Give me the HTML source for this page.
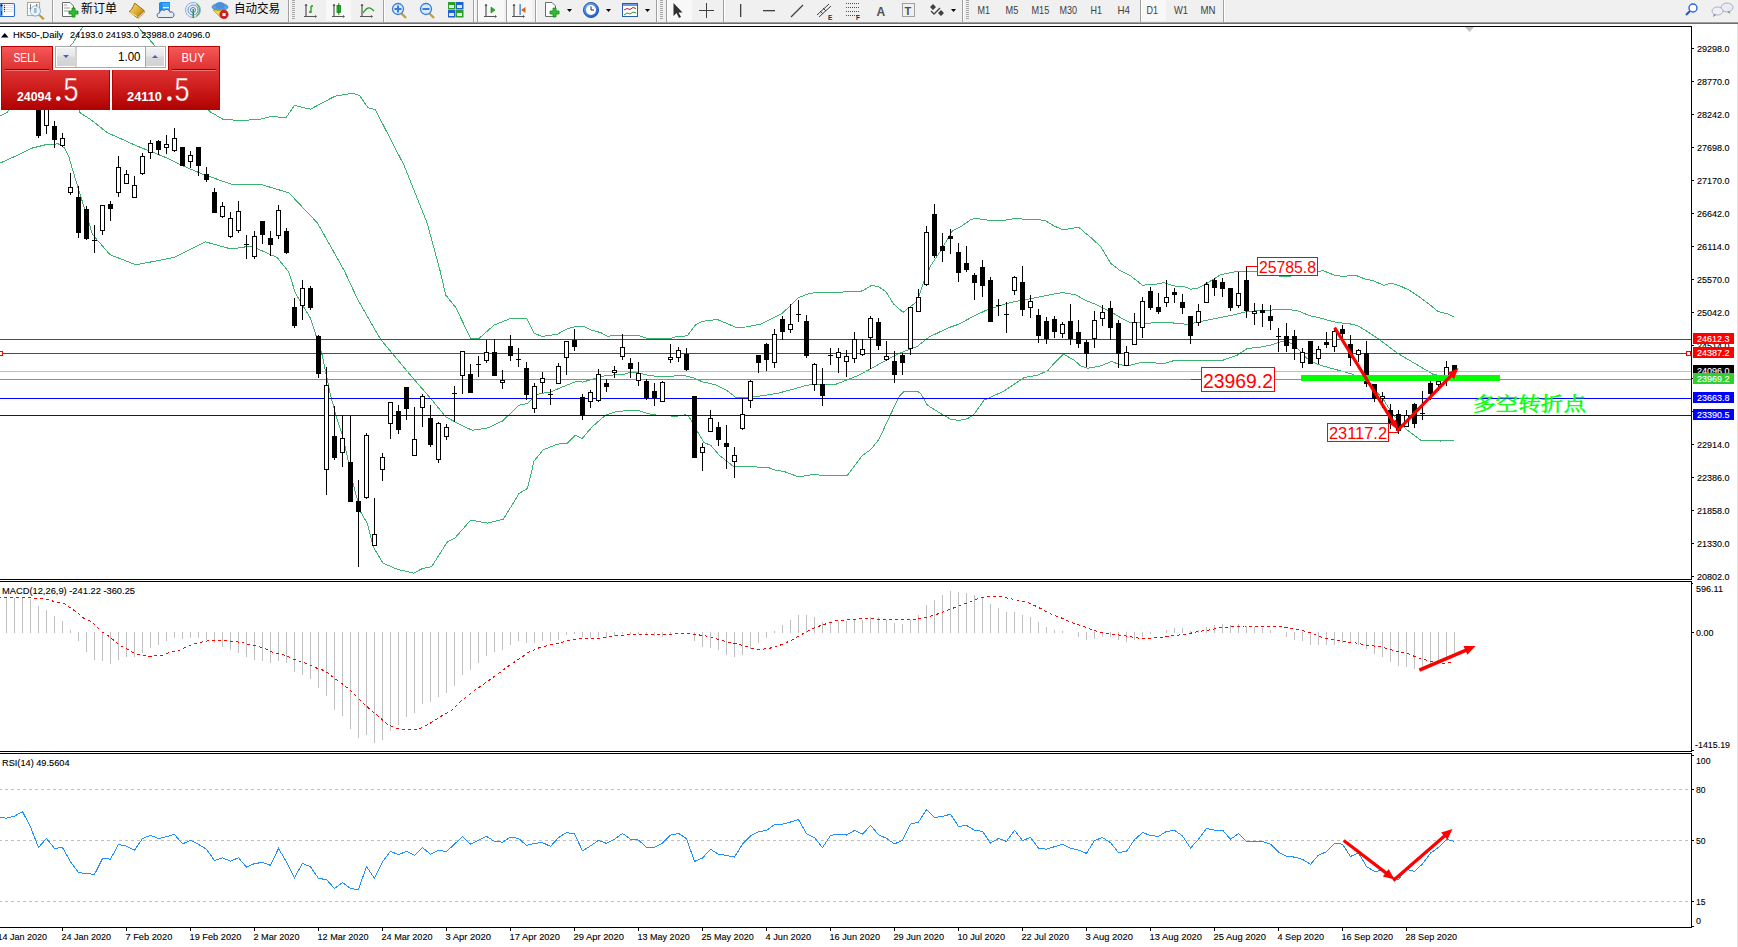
<!DOCTYPE html><html><head><meta charset="utf-8"><style>html,body{margin:0;padding:0;background:#fff;overflow:hidden}svg{display:block}</style></head><body>
<svg width="1738" height="947" viewBox="0 0 1738 947" font-family="'Liberation Sans', Arial, sans-serif">
<rect x="0" y="0" width="1738" height="947" fill="#fff"/>
<rect x="0" y="0" width="1738" height="22" fill="#f0f0f0"/>
<rect x="0" y="22" width="1738" height="1" fill="#a0a0a0"/>
<rect x="0" y="23" width="1738" height="1" fill="#6e6e6e"/>
<rect x="1737" y="24" width="1" height="923" fill="#e2e2e2"/>
<rect x="0" y="26" width="1692" height="1" fill="#000"/>
<rect x="0" y="579" width="1692" height="1" fill="#000"/>
<rect x="1691" y="26" width="1" height="554" fill="#000"/>
<rect x="0" y="581" width="1692" height="1" fill="#000"/>
<rect x="0" y="751" width="1692" height="1" fill="#000"/>
<rect x="1691" y="581" width="1" height="171" fill="#000"/>
<rect x="0" y="753" width="1692" height="1" fill="#000"/>
<rect x="0" y="927" width="1692" height="1" fill="#000"/>
<rect x="1691" y="753" width="1" height="175" fill="#000"/>
<clipPath id="cm"><rect x="0" y="27" width="1691" height="552"/></clipPath>
<g clip-path="url(#cm)">
<polyline points="40.5,70.0 60.5,55.0 72.7,43.5 82.6,26.8 86.5,14.0 133.5,14.0 138.1,27.2 153.4,44.0 180.5,80.0 210.4,111.9 222.6,119.1 240.5,120.6 259.9,119.2 271.5,116.4 285.9,117.8 294.5,105.4 310.4,109.2 334.9,96.2 352.2,93.3 359.4,95.3 368.0,107.7 375.3,109.7 404.1,165.4 427.1,223.0 439.9,270.0 445.7,295.0 455.7,307.5 470.7,338.4 479.1,338.4 494.1,325.1 510.8,318.4 526.6,318.4 534.1,333.4 542.5,336.4 557.5,334.2 567.2,328.7 573.8,327.0 583.0,326.2 592.2,330.4 600.5,332.5 607.2,336.2 618.9,335.4 638.9,335.5 647.3,338.4 670.6,338.4 677.3,336.4 687.3,335.9 695.7,324.7 702.3,321.4 717.3,319.5 735.7,327.2 745.7,327.0 760.7,324.2 782.4,313.3 795.8,300.0 798.8,297.5 807.2,294.2 817.2,292.0 835.6,293.0 845.6,291.7 860.5,291.4 863.9,290.1 871.4,285.4 878.9,286.8 885.6,291.4 893.9,304.3 903.1,312.3 908.9,307.6 917.3,301.5 923.9,280.9 930.6,265.9 940.6,250.9 952.3,230.9 960.7,226.7 970.7,219.7 975.7,218.4 987.4,220.0 1005.7,220.0 1014.0,218.7 1039.1,219.7 1045.8,220.9 1054.1,225.9 1063.3,230.0 1070.8,228.4 1079.1,227.5 1084.1,232.0 1090.8,237.5 1100.8,246.7 1110.8,263.4 1120.5,270.9 1130.6,275.9 1142.3,285.1 1153.9,284.7 1163.9,282.6 1174.0,285.9 1185.6,287.1 1190.6,289.2 1197.3,288.4 1207.3,283.1 1220.7,274.7 1237.4,271.4 1257.4,271.7 1270.5,274.0 1281.6,276.7 1287.4,277.0 1290.2,276.2 1323.3,270.7 1334.4,275.2 1344.1,276.6 1351.0,275.2 1356.5,275.6 1364.8,278.9 1373.1,280.7 1384.1,285.3 1391.0,283.1 1399.3,285.6 1409.0,290.0 1420.0,297.3 1428.3,303.5 1438.0,311.5 1447.6,313.9 1454.5,317.3" fill="none" stroke="#3cb371" stroke-width="1" shape-rendering="crispEdges"/>
<polyline points="0.5,115.7 7.3,112.4 20.5,90.0 60.5,60.0 76.5,100.0 79.6,112.4 91.8,120.3 107.0,132.5 122.2,139.3 137.4,146.2 152.6,152.2 167.8,158.3 183.0,165.9 202.3,174.0 231.1,184.1 259.9,184.1 288.8,192.8 317.5,223.0 343.9,270.0 358.0,300.0 380.5,339.2 414.0,379.3 430.7,398.5 445.7,416.8 460.7,425.0 472.5,430.3 487.5,428.0 502.5,421.0 519.1,405.2 527.5,403.5 537.5,394.3 550.8,391.8 568.8,384.3 577.2,381.3 583.0,382.1 590.5,379.8 598.9,377.1 607.2,375.4 615.5,374.8 623.9,374.3 631.4,372.1 638.9,373.1 650.6,375.9 667.3,376.4 684.0,375.4 694.0,378.1 702.3,381.8 715.7,384.8 727.4,390.9 735.7,397.3 744.0,397.3 757.4,396.4 777.4,393.4 794.1,388.9 807.5,385.1 820.8,384.3 835.8,384.3 857.2,375.9 868.9,369.8 883.9,361.4 899.0,353.4 917.3,346.4 929.0,337.1 949.0,327.5 959.0,324.2 974.0,315.9 987.4,309.7 1007.4,303.3 1020.8,300.3 1030.8,298.7 1049.1,295.0 1062.5,292.5 1075.8,294.8 1084.1,299.8 1097.5,305.1 1110.8,311.8 1120.5,317.6 1128.9,322.1 1145.6,323.4 1163.9,322.1 1187.3,324.3 1204.0,320.9 1229.0,315.9 1247.4,311.4 1270.7,310.1 1287.4,309.2 1298.5,311.1 1309.5,315.7 1317.8,317.3 1328.9,320.5 1337.2,322.6 1348.2,323.5 1356.5,325.3 1364.8,329.8 1378.6,339.1 1397.1,353.0 1419.5,366.2 1432.7,374.1 1444.0,376.4 1454.5,378.0" fill="none" stroke="#3cb371" stroke-width="1" shape-rendering="crispEdges"/>
<polyline points="0.5,162.9 15.7,156.0 30.9,148.4 46.1,144.6 58.3,143.9 64.4,147.7 68.9,156.8 72.7,170.0 78.3,188.4 92.5,234.5 110.0,254.7 136.0,264.8 173.5,257.6 205.2,241.8 231.1,249.0 251.3,246.0 277.2,257.6 288.8,272.0 295.5,293.4 310.5,318.4 316.4,336.7 322.2,355.1 330.5,395.1 337.2,420.0 342.2,434.2 348.9,463.4 353.9,486.7 360.6,511.8 367.3,523.5 373.1,546.8 383.1,563.2 397.3,569.3 414.0,573.2 422.3,568.5 431.5,566.8 447.4,541.8 454.9,538.1 470.7,520.1 487.4,523.1 503.3,519.3 519.1,493.4 527.5,488.4 534.1,460.9 543.3,449.7 557.5,444.2 567.2,443.2 575.5,435.2 582.2,438.5 592.2,426.8 605.5,415.1 615.6,411.8 630.6,410.1 638.9,410.5 647.3,413.5 653.1,414.8 675.6,416.3 685.6,414.8 689.0,416.8 695.7,428.5 704.0,442.7 710.7,445.2 719.0,455.0 733.9,466.8 767.3,467.1 775.6,470.4 784.0,471.4 799.0,477.1 805.7,475.6 815.7,474.3 820.7,475.4 847.4,475.4 862.4,455.4 870.7,449.7 879.1,439.2 889.1,417.5 899.1,396.7 904.0,391.3 917.3,391.0 920.7,393.5 927.3,405.1 940.7,413.5 950.7,419.3 959.0,420.5 967.4,418.8 974.0,414.3 984.1,400.1 1004.1,391.0 1024.1,377.6 1037.5,375.1 1047.5,370.9 1054.1,363.4 1063.3,354.2 1074.2,360.1 1080.5,365.9 1087.2,368.2 1098.9,366.5 1111.4,361.5 1118.9,364.3 1127.2,366.0 1142.3,362.1 1163.9,363.5 1175.6,360.1 1220.7,361.0 1237.4,355.1 1247.4,348.5 1262.4,346.8 1270.7,345.1 1280.7,341.8 1287.4,341.0 1295.8,346.8 1307.4,358.8 1317.5,364.3 1331.1,368.2 1352.2,374.1 1370.7,384.7 1383.9,400.5 1394.5,416.4 1405.0,428.3 1420.9,440.4 1440.5,441.0 1454.5,440.4" fill="none" stroke="#3cb371" stroke-width="1" shape-rendering="crispEdges"/>
<rect x="0" y="339" width="1691" height="1" fill="#ff0000"/>
<rect x="0" y="353" width="1691" height="1" fill="#ff0000"/>
<rect x="0" y="371" width="1691" height="1" fill="#c0c0c0"/>
<rect x="0" y="379" width="1691" height="1" fill="#32cd32"/>
<rect x="0" y="398" width="1691" height="1" fill="#0000ff"/>
<rect x="0" y="415" width="1691" height="1" fill="#0000ff"/>
<rect x="38" y="95" width="1" height="43"/>
<rect x="36" y="100" width="5" height="36"/>
<rect x="46" y="95" width="1" height="39"/>
<rect x="44" y="100" width="5" height="26"/>
<rect x="45" y="101" width="3" height="24" fill="#fff"/>
<rect x="54" y="121" width="1" height="27"/>
<rect x="52" y="126" width="5" height="14"/>
<rect x="62" y="133" width="1" height="14"/>
<rect x="60" y="138" width="5" height="8"/>
<rect x="61" y="139" width="3" height="6" fill="#fff"/>
<rect x="70" y="173" width="1" height="22"/>
<rect x="68" y="187" width="5" height="6"/>
<rect x="69" y="188" width="3" height="4" fill="#fff"/>
<rect x="78" y="186" width="1" height="52"/>
<rect x="76" y="197" width="5" height="36"/>
<rect x="86" y="206" width="1" height="34"/>
<rect x="84" y="209" width="5" height="30"/>
<rect x="94" y="225" width="1" height="28"/>
<rect x="92" y="240" width="5" height="1"/>
<rect x="102" y="205" width="1" height="30"/>
<rect x="100" y="205" width="5" height="26"/>
<rect x="101" y="206" width="3" height="24" fill="#fff"/>
<rect x="110" y="201" width="1" height="20"/>
<rect x="108" y="204" width="5" height="5"/>
<rect x="118" y="156" width="1" height="41"/>
<rect x="116" y="167" width="5" height="26"/>
<rect x="117" y="168" width="3" height="24" fill="#fff"/>
<rect x="126" y="170" width="1" height="14"/>
<rect x="124" y="174" width="5" height="10"/>
<rect x="125" y="175" width="3" height="8" fill="#fff"/>
<rect x="134" y="176" width="1" height="22"/>
<rect x="132" y="185" width="5" height="13"/>
<rect x="133" y="186" width="3" height="11" fill="#fff"/>
<rect x="142" y="153" width="1" height="22"/>
<rect x="140" y="156" width="5" height="18"/>
<rect x="141" y="157" width="3" height="16" fill="#fff"/>
<rect x="150" y="140" width="1" height="19"/>
<rect x="148" y="143" width="5" height="10"/>
<rect x="149" y="144" width="3" height="8" fill="#fff"/>
<rect x="158" y="140" width="1" height="15"/>
<rect x="156" y="141" width="5" height="9"/>
<rect x="166" y="135" width="1" height="19"/>
<rect x="164" y="144" width="5" height="4"/>
<rect x="165" y="145" width="3" height="2" fill="#fff"/>
<rect x="174" y="128" width="1" height="24"/>
<rect x="172" y="138" width="5" height="13"/>
<rect x="173" y="139" width="3" height="11" fill="#fff"/>
<rect x="182" y="147" width="1" height="19"/>
<rect x="180" y="147" width="5" height="19"/>
<rect x="190" y="151" width="1" height="17"/>
<rect x="188" y="155" width="5" height="7"/>
<rect x="189" y="156" width="3" height="5" fill="#fff"/>
<rect x="198" y="147" width="1" height="29"/>
<rect x="196" y="147" width="5" height="19"/>
<rect x="206" y="167" width="1" height="15"/>
<rect x="204" y="174" width="5" height="6"/>
<rect x="214" y="188" width="1" height="25"/>
<rect x="212" y="192" width="5" height="21"/>
<rect x="222" y="202" width="1" height="16"/>
<rect x="220" y="206" width="5" height="11"/>
<rect x="221" y="207" width="3" height="9" fill="#fff"/>
<rect x="230" y="212" width="1" height="26"/>
<rect x="228" y="218" width="5" height="19"/>
<rect x="229" y="219" width="3" height="17" fill="#fff"/>
<rect x="238" y="201" width="1" height="32"/>
<rect x="236" y="211" width="5" height="20"/>
<rect x="237" y="212" width="3" height="18" fill="#fff"/>
<rect x="246" y="235" width="1" height="24"/>
<rect x="244" y="244" width="5" height="1"/>
<rect x="254" y="231" width="1" height="28"/>
<rect x="252" y="236" width="5" height="21"/>
<rect x="253" y="237" width="3" height="19" fill="#fff"/>
<rect x="262" y="221" width="1" height="23"/>
<rect x="260" y="221" width="5" height="14"/>
<rect x="270" y="231" width="1" height="25"/>
<rect x="268" y="238" width="5" height="7"/>
<rect x="278" y="205" width="1" height="34"/>
<rect x="276" y="210" width="5" height="26"/>
<rect x="277" y="211" width="3" height="24" fill="#fff"/>
<rect x="286" y="228" width="1" height="26"/>
<rect x="284" y="231" width="5" height="22"/>
<rect x="294" y="298" width="1" height="30"/>
<rect x="292" y="307" width="5" height="19"/>
<rect x="302" y="280" width="1" height="40"/>
<rect x="300" y="288" width="5" height="18"/>
<rect x="301" y="289" width="3" height="16" fill="#fff"/>
<rect x="310" y="286" width="1" height="24"/>
<rect x="308" y="288" width="5" height="20"/>
<rect x="318" y="335" width="1" height="43"/>
<rect x="316" y="336" width="5" height="38"/>
<rect x="326" y="367" width="1" height="128"/>
<rect x="324" y="385" width="5" height="85"/>
<rect x="325" y="386" width="3" height="83" fill="#fff"/>
<rect x="334" y="406" width="1" height="54"/>
<rect x="332" y="436" width="5" height="22"/>
<rect x="342" y="415" width="1" height="52"/>
<rect x="340" y="438" width="5" height="15"/>
<rect x="341" y="439" width="3" height="13" fill="#fff"/>
<rect x="350" y="416" width="1" height="86"/>
<rect x="348" y="462" width="5" height="40"/>
<rect x="358" y="480" width="1" height="87"/>
<rect x="356" y="501" width="5" height="11"/>
<rect x="366" y="433" width="1" height="66"/>
<rect x="364" y="435" width="5" height="63"/>
<rect x="365" y="436" width="3" height="61" fill="#fff"/>
<rect x="374" y="498" width="1" height="48"/>
<rect x="372" y="534" width="5" height="12"/>
<rect x="373" y="535" width="3" height="10" fill="#fff"/>
<rect x="382" y="453" width="1" height="28"/>
<rect x="380" y="457" width="5" height="13"/>
<rect x="381" y="458" width="3" height="11" fill="#fff"/>
<rect x="390" y="402" width="1" height="37"/>
<rect x="388" y="402" width="5" height="22"/>
<rect x="389" y="403" width="3" height="20" fill="#fff"/>
<rect x="398" y="405" width="1" height="29"/>
<rect x="396" y="411" width="5" height="19"/>
<rect x="406" y="387" width="1" height="33"/>
<rect x="404" y="387" width="5" height="22"/>
<rect x="414" y="407" width="1" height="49"/>
<rect x="412" y="439" width="5" height="17"/>
<rect x="413" y="440" width="3" height="15" fill="#fff"/>
<rect x="422" y="394" width="1" height="33"/>
<rect x="420" y="396" width="5" height="12"/>
<rect x="421" y="397" width="3" height="10" fill="#fff"/>
<rect x="430" y="405" width="1" height="42"/>
<rect x="428" y="418" width="5" height="27"/>
<rect x="438" y="422" width="1" height="41"/>
<rect x="436" y="423" width="5" height="37"/>
<rect x="437" y="424" width="3" height="35" fill="#fff"/>
<rect x="446" y="424" width="1" height="16"/>
<rect x="444" y="427" width="5" height="10"/>
<rect x="445" y="428" width="3" height="8" fill="#fff"/>
<rect x="454" y="386" width="1" height="36"/>
<rect x="452" y="393" width="5" height="1"/>
<rect x="462" y="351" width="1" height="43"/>
<rect x="460" y="351" width="5" height="25"/>
<rect x="461" y="352" width="3" height="23" fill="#fff"/>
<rect x="470" y="364" width="1" height="29"/>
<rect x="468" y="374" width="5" height="19"/>
<rect x="478" y="356" width="1" height="21"/>
<rect x="476" y="364" width="5" height="1"/>
<rect x="486" y="340" width="1" height="23"/>
<rect x="484" y="352" width="5" height="9"/>
<rect x="485" y="353" width="3" height="7" fill="#fff"/>
<rect x="494" y="339" width="1" height="37"/>
<rect x="492" y="352" width="5" height="24"/>
<rect x="502" y="370" width="1" height="19"/>
<rect x="500" y="380" width="5" height="3"/>
<rect x="501" y="381" width="3" height="1" fill="#fff"/>
<rect x="510" y="335" width="1" height="26"/>
<rect x="508" y="346" width="5" height="10"/>
<rect x="518" y="348" width="1" height="19"/>
<rect x="516" y="359" width="5" height="1"/>
<rect x="526" y="362" width="1" height="38"/>
<rect x="524" y="368" width="5" height="27"/>
<rect x="534" y="383" width="1" height="30"/>
<rect x="532" y="386" width="5" height="23"/>
<rect x="533" y="387" width="3" height="21" fill="#fff"/>
<rect x="542" y="372" width="1" height="21"/>
<rect x="540" y="378" width="5" height="5"/>
<rect x="541" y="379" width="3" height="3" fill="#fff"/>
<rect x="550" y="389" width="1" height="16"/>
<rect x="548" y="394" width="5" height="1"/>
<rect x="558" y="363" width="1" height="21"/>
<rect x="556" y="366" width="5" height="18"/>
<rect x="557" y="367" width="3" height="16" fill="#fff"/>
<rect x="566" y="341" width="1" height="34"/>
<rect x="564" y="341" width="5" height="17"/>
<rect x="565" y="342" width="3" height="15" fill="#fff"/>
<rect x="574" y="329" width="1" height="22"/>
<rect x="572" y="340" width="5" height="7"/>
<rect x="582" y="394" width="1" height="26"/>
<rect x="580" y="397" width="5" height="19"/>
<rect x="590" y="390" width="1" height="18"/>
<rect x="588" y="392" width="5" height="10"/>
<rect x="589" y="393" width="3" height="8" fill="#fff"/>
<rect x="598" y="369" width="1" height="33"/>
<rect x="596" y="374" width="5" height="27"/>
<rect x="597" y="375" width="3" height="25" fill="#fff"/>
<rect x="606" y="379" width="1" height="13"/>
<rect x="604" y="383" width="5" height="4"/>
<rect x="614" y="366" width="1" height="12"/>
<rect x="612" y="370" width="5" height="3"/>
<rect x="613" y="371" width="3" height="1" fill="#fff"/>
<rect x="622" y="334" width="1" height="26"/>
<rect x="620" y="347" width="5" height="10"/>
<rect x="621" y="348" width="3" height="8" fill="#fff"/>
<rect x="630" y="358" width="1" height="20"/>
<rect x="628" y="363" width="5" height="6"/>
<rect x="638" y="362" width="1" height="24"/>
<rect x="636" y="373" width="5" height="8"/>
<rect x="637" y="374" width="3" height="6" fill="#fff"/>
<rect x="646" y="379" width="1" height="21"/>
<rect x="644" y="381" width="5" height="17"/>
<rect x="654" y="383" width="1" height="23"/>
<rect x="652" y="391" width="5" height="7"/>
<rect x="662" y="381" width="1" height="21"/>
<rect x="660" y="382" width="5" height="20"/>
<rect x="661" y="383" width="3" height="18" fill="#fff"/>
<rect x="670" y="344" width="1" height="19"/>
<rect x="668" y="357" width="5" height="3"/>
<rect x="669" y="358" width="3" height="1" fill="#fff"/>
<rect x="678" y="347" width="1" height="15"/>
<rect x="676" y="350" width="5" height="8"/>
<rect x="677" y="351" width="3" height="6" fill="#fff"/>
<rect x="686" y="348" width="1" height="23"/>
<rect x="684" y="354" width="5" height="16"/>
<rect x="694" y="396" width="1" height="62"/>
<rect x="692" y="396" width="5" height="62"/>
<rect x="702" y="443" width="1" height="28"/>
<rect x="700" y="447" width="5" height="6"/>
<rect x="701" y="448" width="3" height="4" fill="#fff"/>
<rect x="710" y="410" width="1" height="22"/>
<rect x="708" y="418" width="5" height="14"/>
<rect x="709" y="419" width="3" height="12" fill="#fff"/>
<rect x="718" y="422" width="1" height="24"/>
<rect x="716" y="427" width="5" height="13"/>
<rect x="726" y="425" width="1" height="44"/>
<rect x="724" y="443" width="5" height="4"/>
<rect x="734" y="447" width="1" height="31"/>
<rect x="732" y="455" width="5" height="7"/>
<rect x="733" y="456" width="3" height="5" fill="#fff"/>
<rect x="742" y="398" width="1" height="32"/>
<rect x="740" y="414" width="5" height="15"/>
<rect x="741" y="415" width="3" height="13" fill="#fff"/>
<rect x="750" y="380" width="1" height="28"/>
<rect x="748" y="381" width="5" height="20"/>
<rect x="749" y="382" width="3" height="18" fill="#fff"/>
<rect x="758" y="355" width="1" height="18"/>
<rect x="756" y="355" width="5" height="8"/>
<rect x="766" y="343" width="1" height="28"/>
<rect x="764" y="344" width="5" height="16"/>
<rect x="774" y="329" width="1" height="39"/>
<rect x="772" y="334" width="5" height="29"/>
<rect x="773" y="335" width="3" height="27" fill="#fff"/>
<rect x="782" y="316" width="1" height="24"/>
<rect x="780" y="319" width="5" height="13"/>
<rect x="790" y="304" width="1" height="29"/>
<rect x="788" y="324" width="5" height="6"/>
<rect x="789" y="325" width="3" height="4" fill="#fff"/>
<rect x="798" y="300" width="1" height="22"/>
<rect x="796" y="314" width="5" height="1"/>
<rect x="806" y="315" width="1" height="43"/>
<rect x="804" y="321" width="5" height="35"/>
<rect x="814" y="363" width="1" height="28"/>
<rect x="812" y="364" width="5" height="21"/>
<rect x="813" y="365" width="3" height="19" fill="#fff"/>
<rect x="822" y="368" width="1" height="38"/>
<rect x="820" y="384" width="5" height="12"/>
<rect x="830" y="348" width="1" height="17"/>
<rect x="828" y="355" width="5" height="1"/>
<rect x="838" y="348" width="1" height="25"/>
<rect x="836" y="352" width="5" height="6"/>
<rect x="837" y="353" width="3" height="4" fill="#fff"/>
<rect x="846" y="350" width="1" height="27"/>
<rect x="844" y="356" width="5" height="6"/>
<rect x="845" y="357" width="3" height="4" fill="#fff"/>
<rect x="854" y="332" width="1" height="31"/>
<rect x="852" y="339" width="5" height="20"/>
<rect x="853" y="340" width="3" height="18" fill="#fff"/>
<rect x="862" y="339" width="1" height="17"/>
<rect x="860" y="349" width="5" height="6"/>
<rect x="861" y="350" width="3" height="4" fill="#fff"/>
<rect x="870" y="316" width="1" height="53"/>
<rect x="868" y="318" width="5" height="20"/>
<rect x="869" y="319" width="3" height="18" fill="#fff"/>
<rect x="878" y="318" width="1" height="32"/>
<rect x="876" y="322" width="5" height="24"/>
<rect x="886" y="341" width="1" height="20"/>
<rect x="884" y="356" width="5" height="4"/>
<rect x="885" y="357" width="3" height="2" fill="#fff"/>
<rect x="894" y="351" width="1" height="32"/>
<rect x="892" y="361" width="5" height="14"/>
<rect x="902" y="353" width="1" height="22"/>
<rect x="900" y="355" width="5" height="8"/>
<rect x="910" y="307" width="1" height="48"/>
<rect x="908" y="307" width="5" height="42"/>
<rect x="909" y="308" width="3" height="40" fill="#fff"/>
<rect x="918" y="289" width="1" height="23"/>
<rect x="916" y="297" width="5" height="15"/>
<rect x="917" y="298" width="3" height="13" fill="#fff"/>
<rect x="926" y="226" width="1" height="60"/>
<rect x="924" y="232" width="5" height="53"/>
<rect x="925" y="233" width="3" height="51" fill="#fff"/>
<rect x="934" y="204" width="1" height="54"/>
<rect x="932" y="214" width="5" height="42"/>
<rect x="942" y="233" width="1" height="29"/>
<rect x="940" y="246" width="5" height="5"/>
<rect x="950" y="229" width="1" height="25"/>
<rect x="948" y="236" width="5" height="3"/>
<rect x="958" y="243" width="1" height="39"/>
<rect x="956" y="252" width="5" height="21"/>
<rect x="966" y="246" width="1" height="26"/>
<rect x="964" y="263" width="5" height="7"/>
<rect x="974" y="273" width="1" height="27"/>
<rect x="972" y="275" width="5" height="8"/>
<rect x="982" y="260" width="1" height="37"/>
<rect x="980" y="267" width="5" height="19"/>
<rect x="990" y="277" width="1" height="45"/>
<rect x="988" y="280" width="5" height="42"/>
<rect x="998" y="299" width="1" height="17"/>
<rect x="996" y="305" width="5" height="1"/>
<rect x="1006" y="302" width="1" height="31"/>
<rect x="1004" y="314" width="5" height="1"/>
<rect x="1014" y="276" width="1" height="19"/>
<rect x="1012" y="277" width="5" height="14"/>
<rect x="1013" y="278" width="3" height="12" fill="#fff"/>
<rect x="1022" y="266" width="1" height="50"/>
<rect x="1020" y="282" width="5" height="28"/>
<rect x="1030" y="295" width="1" height="23"/>
<rect x="1028" y="301" width="5" height="7"/>
<rect x="1029" y="302" width="3" height="5" fill="#fff"/>
<rect x="1038" y="309" width="1" height="34"/>
<rect x="1036" y="315" width="5" height="21"/>
<rect x="1046" y="317" width="1" height="27"/>
<rect x="1044" y="321" width="5" height="18"/>
<rect x="1054" y="316" width="1" height="22"/>
<rect x="1052" y="319" width="5" height="13"/>
<rect x="1062" y="322" width="1" height="16"/>
<rect x="1060" y="324" width="5" height="10"/>
<rect x="1061" y="325" width="3" height="8" fill="#fff"/>
<rect x="1070" y="304" width="1" height="41"/>
<rect x="1068" y="321" width="5" height="18"/>
<rect x="1078" y="320" width="1" height="28"/>
<rect x="1076" y="332" width="5" height="12"/>
<rect x="1086" y="340" width="1" height="27"/>
<rect x="1084" y="342" width="5" height="12"/>
<rect x="1094" y="311" width="1" height="37"/>
<rect x="1092" y="320" width="5" height="19"/>
<rect x="1093" y="321" width="3" height="17" fill="#fff"/>
<rect x="1102" y="305" width="1" height="21"/>
<rect x="1100" y="312" width="5" height="7"/>
<rect x="1101" y="313" width="3" height="5" fill="#fff"/>
<rect x="1110" y="301" width="1" height="39"/>
<rect x="1108" y="308" width="5" height="20"/>
<rect x="1118" y="320" width="1" height="48"/>
<rect x="1116" y="323" width="5" height="31"/>
<rect x="1126" y="346" width="1" height="20"/>
<rect x="1124" y="352" width="5" height="14"/>
<rect x="1125" y="353" width="3" height="12" fill="#fff"/>
<rect x="1134" y="313" width="1" height="32"/>
<rect x="1132" y="322" width="5" height="23"/>
<rect x="1133" y="323" width="3" height="21" fill="#fff"/>
<rect x="1142" y="297" width="1" height="41"/>
<rect x="1140" y="301" width="5" height="27"/>
<rect x="1141" y="302" width="3" height="25" fill="#fff"/>
<rect x="1150" y="287" width="1" height="23"/>
<rect x="1148" y="291" width="5" height="17"/>
<rect x="1158" y="293" width="1" height="21"/>
<rect x="1156" y="307" width="5" height="5"/>
<rect x="1166" y="280" width="1" height="27"/>
<rect x="1164" y="297" width="5" height="6"/>
<rect x="1165" y="298" width="3" height="4" fill="#fff"/>
<rect x="1174" y="288" width="1" height="15"/>
<rect x="1172" y="292" width="5" height="3"/>
<rect x="1182" y="294" width="1" height="20"/>
<rect x="1180" y="302" width="5" height="6"/>
<rect x="1190" y="316" width="1" height="28"/>
<rect x="1188" y="316" width="5" height="20"/>
<rect x="1198" y="304" width="1" height="22"/>
<rect x="1196" y="311" width="5" height="12"/>
<rect x="1197" y="312" width="3" height="10" fill="#fff"/>
<rect x="1206" y="282" width="1" height="21"/>
<rect x="1204" y="284" width="5" height="19"/>
<rect x="1205" y="285" width="3" height="17" fill="#fff"/>
<rect x="1214" y="278" width="1" height="18"/>
<rect x="1212" y="280" width="5" height="8"/>
<rect x="1222" y="278" width="1" height="19"/>
<rect x="1220" y="282" width="5" height="7"/>
<rect x="1230" y="288" width="1" height="23"/>
<rect x="1228" y="288" width="5" height="20"/>
<rect x="1238" y="272" width="1" height="36"/>
<rect x="1236" y="293" width="5" height="13"/>
<rect x="1237" y="294" width="3" height="11" fill="#fff"/>
<rect x="1246" y="266" width="1" height="52"/>
<rect x="1244" y="280" width="5" height="31"/>
<rect x="1254" y="303" width="1" height="22"/>
<rect x="1252" y="311" width="5" height="3"/>
<rect x="1253" y="312" width="3" height="1" fill="#fff"/>
<rect x="1262" y="304" width="1" height="23"/>
<rect x="1260" y="310" width="5" height="3"/>
<rect x="1270" y="305" width="1" height="25"/>
<rect x="1268" y="316" width="5" height="5"/>
<rect x="1278" y="328" width="1" height="24"/>
<rect x="1276" y="336" width="5" height="1"/>
<rect x="1286" y="323" width="1" height="29"/>
<rect x="1284" y="336" width="5" height="10"/>
<rect x="1294" y="330" width="1" height="30"/>
<rect x="1292" y="336" width="5" height="13"/>
<rect x="1302" y="348" width="1" height="20"/>
<rect x="1300" y="352" width="5" height="11"/>
<rect x="1301" y="353" width="3" height="9" fill="#fff"/>
<rect x="1310" y="341" width="1" height="23"/>
<rect x="1308" y="341" width="5" height="23"/>
<rect x="1318" y="346" width="1" height="18"/>
<rect x="1316" y="349" width="5" height="10"/>
<rect x="1317" y="350" width="3" height="8" fill="#fff"/>
<rect x="1326" y="332" width="1" height="16"/>
<rect x="1324" y="342" width="5" height="3"/>
<rect x="1334" y="329" width="1" height="23"/>
<rect x="1332" y="331" width="5" height="16"/>
<rect x="1333" y="332" width="3" height="14" fill="#fff"/>
<rect x="1342" y="325" width="1" height="13"/>
<rect x="1340" y="329" width="5" height="5"/>
<rect x="1350" y="335" width="1" height="31"/>
<rect x="1348" y="344" width="5" height="14"/>
<rect x="1358" y="349" width="1" height="13"/>
<rect x="1356" y="350" width="5" height="5"/>
<rect x="1357" y="351" width="3" height="3" fill="#fff"/>
<rect x="1366" y="341" width="1" height="46"/>
<rect x="1364" y="353" width="5" height="31"/>
<rect x="1374" y="384" width="1" height="18"/>
<rect x="1372" y="384" width="5" height="15"/>
<rect x="1382" y="392" width="1" height="16"/>
<rect x="1380" y="396" width="5" height="3"/>
<rect x="1381" y="397" width="3" height="1" fill="#fff"/>
<rect x="1390" y="404" width="1" height="25"/>
<rect x="1388" y="410" width="5" height="14"/>
<rect x="1398" y="410" width="1" height="24"/>
<rect x="1396" y="414" width="5" height="17"/>
<rect x="1406" y="410" width="1" height="17"/>
<rect x="1404" y="415" width="5" height="12"/>
<rect x="1405" y="416" width="3" height="10" fill="#fff"/>
<rect x="1414" y="403" width="1" height="25"/>
<rect x="1412" y="404" width="5" height="20"/>
<rect x="1422" y="391" width="1" height="29"/>
<rect x="1420" y="413" width="5" height="1"/>
<rect x="1430" y="381" width="1" height="19"/>
<rect x="1428" y="383" width="5" height="11"/>
<rect x="1438" y="381" width="1" height="10"/>
<rect x="1436" y="381" width="5" height="4"/>
<rect x="1437" y="382" width="3" height="2" fill="#fff"/>
<rect x="1446" y="361" width="1" height="25"/>
<rect x="1444" y="367" width="5" height="13"/>
<rect x="1445" y="368" width="3" height="11" fill="#fff"/>
<rect x="1454" y="365" width="1" height="13"/>
<rect x="1452" y="365" width="5" height="6"/>
</g>
<clipPath id="cmacd"><rect x="0" y="582" width="1691" height="169"/></clipPath>
<g clip-path="url(#cmacd)">
<rect x="6" y="598" width="1" height="35" fill="#c0c0c0"/>
<rect x="14" y="598" width="1" height="35" fill="#c0c0c0"/>
<rect x="22" y="598" width="1" height="35" fill="#c0c0c0"/>
<rect x="30" y="599" width="1" height="34" fill="#c0c0c0"/>
<rect x="38" y="606" width="1" height="27" fill="#c0c0c0"/>
<rect x="46" y="610" width="1" height="23" fill="#c0c0c0"/>
<rect x="54" y="616" width="1" height="17" fill="#c0c0c0"/>
<rect x="62" y="621" width="1" height="12" fill="#c0c0c0"/>
<rect x="70" y="630" width="1" height="3" fill="#c0c0c0"/>
<rect x="78" y="632" width="1" height="9" fill="#c0c0c0"/>
<rect x="86" y="632" width="1" height="20" fill="#c0c0c0"/>
<rect x="94" y="632" width="1" height="28" fill="#c0c0c0"/>
<rect x="102" y="632" width="1" height="29" fill="#c0c0c0"/>
<rect x="110" y="632" width="1" height="32" fill="#c0c0c0"/>
<rect x="118" y="632" width="1" height="28" fill="#c0c0c0"/>
<rect x="126" y="632" width="1" height="25" fill="#c0c0c0"/>
<rect x="134" y="632" width="1" height="25" fill="#c0c0c0"/>
<rect x="142" y="632" width="1" height="21" fill="#c0c0c0"/>
<rect x="150" y="632" width="1" height="16" fill="#c0c0c0"/>
<rect x="158" y="632" width="1" height="13" fill="#c0c0c0"/>
<rect x="166" y="632" width="1" height="9" fill="#c0c0c0"/>
<rect x="174" y="632" width="1" height="6" fill="#c0c0c0"/>
<rect x="182" y="632" width="1" height="7" fill="#c0c0c0"/>
<rect x="190" y="632" width="1" height="6" fill="#c0c0c0"/>
<rect x="198" y="632" width="1" height="6" fill="#c0c0c0"/>
<rect x="206" y="632" width="1" height="8" fill="#c0c0c0"/>
<rect x="214" y="632" width="1" height="11" fill="#c0c0c0"/>
<rect x="222" y="632" width="1" height="15" fill="#c0c0c0"/>
<rect x="230" y="632" width="1" height="18" fill="#c0c0c0"/>
<rect x="238" y="632" width="1" height="21" fill="#c0c0c0"/>
<rect x="246" y="632" width="1" height="25" fill="#c0c0c0"/>
<rect x="254" y="632" width="1" height="28" fill="#c0c0c0"/>
<rect x="262" y="632" width="1" height="29" fill="#c0c0c0"/>
<rect x="270" y="632" width="1" height="31" fill="#c0c0c0"/>
<rect x="278" y="632" width="1" height="29" fill="#c0c0c0"/>
<rect x="286" y="632" width="1" height="31" fill="#c0c0c0"/>
<rect x="294" y="632" width="1" height="40" fill="#c0c0c0"/>
<rect x="302" y="632" width="1" height="43" fill="#c0c0c0"/>
<rect x="310" y="632" width="1" height="47" fill="#c0c0c0"/>
<rect x="318" y="632" width="1" height="56" fill="#c0c0c0"/>
<rect x="326" y="632" width="1" height="64" fill="#c0c0c0"/>
<rect x="334" y="632" width="1" height="78" fill="#c0c0c0"/>
<rect x="342" y="632" width="1" height="84" fill="#c0c0c0"/>
<rect x="350" y="632" width="1" height="97" fill="#c0c0c0"/>
<rect x="358" y="632" width="1" height="106" fill="#c0c0c0"/>
<rect x="366" y="632" width="1" height="103" fill="#c0c0c0"/>
<rect x="374" y="632" width="1" height="111" fill="#c0c0c0"/>
<rect x="382" y="632" width="1" height="108" fill="#c0c0c0"/>
<rect x="390" y="632" width="1" height="99" fill="#c0c0c0"/>
<rect x="398" y="632" width="1" height="93" fill="#c0c0c0"/>
<rect x="406" y="632" width="1" height="85" fill="#c0c0c0"/>
<rect x="414" y="632" width="1" height="81" fill="#c0c0c0"/>
<rect x="422" y="632" width="1" height="72" fill="#c0c0c0"/>
<rect x="430" y="632" width="1" height="70" fill="#c0c0c0"/>
<rect x="438" y="632" width="1" height="65" fill="#c0c0c0"/>
<rect x="446" y="632" width="1" height="61" fill="#c0c0c0"/>
<rect x="454" y="632" width="1" height="54" fill="#c0c0c0"/>
<rect x="462" y="632" width="1" height="43" fill="#c0c0c0"/>
<rect x="470" y="632" width="1" height="38" fill="#c0c0c0"/>
<rect x="478" y="632" width="1" height="31" fill="#c0c0c0"/>
<rect x="486" y="632" width="1" height="24" fill="#c0c0c0"/>
<rect x="494" y="632" width="1" height="20" fill="#c0c0c0"/>
<rect x="502" y="632" width="1" height="18" fill="#c0c0c0"/>
<rect x="510" y="632" width="1" height="13" fill="#c0c0c0"/>
<rect x="518" y="632" width="1" height="9" fill="#c0c0c0"/>
<rect x="526" y="632" width="1" height="11" fill="#c0c0c0"/>
<rect x="534" y="632" width="1" height="11" fill="#c0c0c0"/>
<rect x="542" y="632" width="1" height="9" fill="#c0c0c0"/>
<rect x="550" y="632" width="1" height="9" fill="#c0c0c0"/>
<rect x="558" y="632" width="1" height="8" fill="#c0c0c0"/>
<rect x="566" y="632" width="1" height="3" fill="#c0c0c0"/>
<rect x="574" y="632" width="1" height="2" fill="#c0c0c0"/>
<rect x="582" y="632" width="1" height="5" fill="#c0c0c0"/>
<rect x="590" y="632" width="1" height="6" fill="#c0c0c0"/>
<rect x="598" y="632" width="1" height="5" fill="#c0c0c0"/>
<rect x="606" y="632" width="1" height="6" fill="#c0c0c0"/>
<rect x="614" y="632" width="1" height="4" fill="#c0c0c0"/>
<rect x="622" y="632" width="1" height="2" fill="#c0c0c0"/>
<rect x="630" y="632" width="1" height="2" fill="#c0c0c0"/>
<rect x="638" y="632" width="1" height="2" fill="#c0c0c0"/>
<rect x="646" y="632" width="1" height="3" fill="#c0c0c0"/>
<rect x="654" y="632" width="1" height="4" fill="#c0c0c0"/>
<rect x="662" y="632" width="1" height="5" fill="#c0c0c0"/>
<rect x="670" y="632" width="1" height="2" fill="#c0c0c0"/>
<rect x="694" y="632" width="1" height="9" fill="#c0c0c0"/>
<rect x="702" y="632" width="1" height="15" fill="#c0c0c0"/>
<rect x="710" y="632" width="1" height="16" fill="#c0c0c0"/>
<rect x="718" y="632" width="1" height="18" fill="#c0c0c0"/>
<rect x="726" y="632" width="1" height="23" fill="#c0c0c0"/>
<rect x="734" y="632" width="1" height="25" fill="#c0c0c0"/>
<rect x="742" y="632" width="1" height="23" fill="#c0c0c0"/>
<rect x="750" y="632" width="1" height="17" fill="#c0c0c0"/>
<rect x="758" y="632" width="1" height="11" fill="#c0c0c0"/>
<rect x="766" y="632" width="1" height="6" fill="#c0c0c0"/>
<rect x="774" y="631" width="1" height="2" fill="#c0c0c0"/>
<rect x="782" y="625" width="1" height="8" fill="#c0c0c0"/>
<rect x="790" y="620" width="1" height="13" fill="#c0c0c0"/>
<rect x="798" y="615" width="1" height="18" fill="#c0c0c0"/>
<rect x="806" y="615" width="1" height="18" fill="#c0c0c0"/>
<rect x="814" y="617" width="1" height="16" fill="#c0c0c0"/>
<rect x="822" y="622" width="1" height="11" fill="#c0c0c0"/>
<rect x="830" y="622" width="1" height="11" fill="#c0c0c0"/>
<rect x="838" y="621" width="1" height="12" fill="#c0c0c0"/>
<rect x="846" y="621" width="1" height="12" fill="#c0c0c0"/>
<rect x="854" y="620" width="1" height="13" fill="#c0c0c0"/>
<rect x="862" y="620" width="1" height="13" fill="#c0c0c0"/>
<rect x="870" y="617" width="1" height="16" fill="#c0c0c0"/>
<rect x="878" y="617" width="1" height="16" fill="#c0c0c0"/>
<rect x="886" y="620" width="1" height="13" fill="#c0c0c0"/>
<rect x="894" y="623" width="1" height="10" fill="#c0c0c0"/>
<rect x="902" y="624" width="1" height="9" fill="#c0c0c0"/>
<rect x="910" y="620" width="1" height="13" fill="#c0c0c0"/>
<rect x="918" y="615" width="1" height="18" fill="#c0c0c0"/>
<rect x="926" y="605" width="1" height="28" fill="#c0c0c0"/>
<rect x="934" y="600" width="1" height="33" fill="#c0c0c0"/>
<rect x="942" y="595" width="1" height="38" fill="#c0c0c0"/>
<rect x="950" y="591" width="1" height="42" fill="#c0c0c0"/>
<rect x="958" y="592" width="1" height="41" fill="#c0c0c0"/>
<rect x="966" y="593" width="1" height="40" fill="#c0c0c0"/>
<rect x="974" y="595" width="1" height="38" fill="#c0c0c0"/>
<rect x="982" y="598" width="1" height="35" fill="#c0c0c0"/>
<rect x="990" y="604" width="1" height="29" fill="#c0c0c0"/>
<rect x="998" y="608" width="1" height="25" fill="#c0c0c0"/>
<rect x="1006" y="612" width="1" height="21" fill="#c0c0c0"/>
<rect x="1014" y="612" width="1" height="21" fill="#c0c0c0"/>
<rect x="1022" y="615" width="1" height="18" fill="#c0c0c0"/>
<rect x="1030" y="617" width="1" height="16" fill="#c0c0c0"/>
<rect x="1038" y="622" width="1" height="11" fill="#c0c0c0"/>
<rect x="1046" y="627" width="1" height="6" fill="#c0c0c0"/>
<rect x="1054" y="630" width="1" height="3" fill="#c0c0c0"/>
<rect x="1062" y="631" width="1" height="2" fill="#c0c0c0"/>
<rect x="1078" y="632" width="1" height="5" fill="#c0c0c0"/>
<rect x="1086" y="632" width="1" height="8" fill="#c0c0c0"/>
<rect x="1094" y="632" width="1" height="7" fill="#c0c0c0"/>
<rect x="1102" y="632" width="1" height="5" fill="#c0c0c0"/>
<rect x="1110" y="632" width="1" height="5" fill="#c0c0c0"/>
<rect x="1118" y="632" width="1" height="8" fill="#c0c0c0"/>
<rect x="1126" y="632" width="1" height="10" fill="#c0c0c0"/>
<rect x="1134" y="632" width="1" height="8" fill="#c0c0c0"/>
<rect x="1142" y="632" width="1" height="5" fill="#c0c0c0"/>
<rect x="1150" y="632" width="1" height="2" fill="#c0c0c0"/>
<rect x="1166" y="630" width="1" height="3" fill="#c0c0c0"/>
<rect x="1174" y="628" width="1" height="5" fill="#c0c0c0"/>
<rect x="1182" y="628" width="1" height="5" fill="#c0c0c0"/>
<rect x="1190" y="631" width="1" height="2" fill="#c0c0c0"/>
<rect x="1198" y="630" width="1" height="3" fill="#c0c0c0"/>
<rect x="1206" y="627" width="1" height="6" fill="#c0c0c0"/>
<rect x="1214" y="625" width="1" height="8" fill="#c0c0c0"/>
<rect x="1222" y="624" width="1" height="9" fill="#c0c0c0"/>
<rect x="1230" y="625" width="1" height="8" fill="#c0c0c0"/>
<rect x="1238" y="624" width="1" height="9" fill="#c0c0c0"/>
<rect x="1246" y="626" width="1" height="7" fill="#c0c0c0"/>
<rect x="1254" y="627" width="1" height="6" fill="#c0c0c0"/>
<rect x="1262" y="628" width="1" height="5" fill="#c0c0c0"/>
<rect x="1270" y="630" width="1" height="3" fill="#c0c0c0"/>
<rect x="1286" y="632" width="1" height="5" fill="#c0c0c0"/>
<rect x="1294" y="632" width="1" height="8" fill="#c0c0c0"/>
<rect x="1302" y="632" width="1" height="9" fill="#c0c0c0"/>
<rect x="1310" y="632" width="1" height="13" fill="#c0c0c0"/>
<rect x="1318" y="632" width="1" height="13" fill="#c0c0c0"/>
<rect x="1326" y="632" width="1" height="13" fill="#c0c0c0"/>
<rect x="1334" y="632" width="1" height="13" fill="#c0c0c0"/>
<rect x="1342" y="632" width="1" height="11" fill="#c0c0c0"/>
<rect x="1350" y="632" width="1" height="11" fill="#c0c0c0"/>
<rect x="1358" y="632" width="1" height="13" fill="#c0c0c0"/>
<rect x="1366" y="632" width="1" height="17" fill="#c0c0c0"/>
<rect x="1374" y="632" width="1" height="22" fill="#c0c0c0"/>
<rect x="1382" y="632" width="1" height="25" fill="#c0c0c0"/>
<rect x="1390" y="632" width="1" height="30" fill="#c0c0c0"/>
<rect x="1398" y="632" width="1" height="34" fill="#c0c0c0"/>
<rect x="1406" y="632" width="1" height="35" fill="#c0c0c0"/>
<rect x="1414" y="632" width="1" height="37" fill="#c0c0c0"/>
<rect x="1422" y="632" width="1" height="36" fill="#c0c0c0"/>
<rect x="1430" y="632" width="1" height="32" fill="#c0c0c0"/>
<rect x="1438" y="632" width="1" height="29" fill="#c0c0c0"/>
<rect x="1446" y="632" width="1" height="25" fill="#c0c0c0"/>
<rect x="1454" y="632" width="1" height="21" fill="#c0c0c0"/>
<polyline points="-7.5,597.6 0.5,597.6 32.4,597.6 36.0,598.5 48.4,599.4 53.7,601.5 64.4,603.5 71.4,608.6 78.5,613.6 83.9,618.3 91.0,621.6 96.3,626.3 101.6,631.7 108.7,636.2 114.0,640.5 119.3,645.0 126.4,648.6 135.3,653.7 142.4,655.6 151.3,656.3 163.7,654.9 170.8,652.0 179.6,650.3 186.7,646.9 195.6,643.2 204.5,641.5 213.3,640.0 224.0,640.0 231.1,641.5 241.7,642.3 248.8,644.6 257.7,646.2 264.8,648.6 271.9,652.0 280.7,654.0 287.6,656.3 294.7,659.7 307.1,663.6 317.7,668.6 324.8,670.7 335.5,679.2 342.6,684.0 351.4,691.1 360.3,700.5 371.0,710.1 378.1,715.9 386.9,723.9 395.8,728.3 406.4,730.1 418.8,728.9 427.7,724.8 440.1,716.8 450.8,711.1 461.4,700.8 472.1,692.3 484.5,683.5 496.9,674.6 509.3,665.4 521.7,657.4 528.8,652.1 539.5,647.6 550.1,645.0 560.7,642.7 570.5,640.2 581.8,638.4 596.0,638.4 606.6,637.5 611.9,636.1 627.9,634.7 649.2,634.3 674.0,634.0 688.2,633.4 698.8,634.9 709.5,636.6 718.4,639.6 729.0,642.3 743.2,645.5 752.1,648.5 760.9,649.4 773.3,647.6 782.2,644.4 792.8,639.6 803.5,633.4 814.1,627.8 826.5,623.7 835.4,621.0 850.5,619.2 874.2,618.4 877.7,619.6 915.0,619.6 920.3,618.4 929.2,616.6 936.3,614.5 946.9,610.4 957.6,606.5 968.2,602.4 978.8,598.3 987.7,596.5 1000.1,596.5 1009.0,598.5 1017.9,600.1 1028.5,602.9 1037.4,606.8 1049.8,613.6 1060.4,617.5 1071.1,622.4 1085.3,627.2 1097.7,631.7 1110.1,633.8 1120.7,635.2 1129.6,636.6 1134.7,637.5 1143.6,638.8 1159.5,637.5 1173.7,635.6 1186.1,634.3 1195.0,632.2 1209.2,629.9 1219.8,627.8 1234.0,626.7 1244.7,626.0 1280.1,626.0 1290.8,628.5 1301.4,630.2 1312.1,633.4 1324.5,638.4 1342.2,641.4 1354.6,642.7 1365.3,645.0 1379.5,646.7 1390.1,649.4 1400.7,652.4 1410.5,654.4 1414.7,656.6 1421.4,658.9 1427.1,660.4 1432.8,661.6 1445.1,663.5 1451.8,662.5" fill="none" stroke="#ff0000" stroke-width="1" stroke-dasharray="3 3" stroke-dashoffset="0.5" shape-rendering="crispEdges"/>
</g>
<clipPath id="crsi"><rect x="0" y="754" width="1691" height="173"/></clipPath>
<g clip-path="url(#crsi)">
<line x1="-1" y1="789.5" x2="1691" y2="789.5" stroke="#c0c0c0" stroke-width="1" stroke-dasharray="3 3" shape-rendering="crispEdges"/>
<line x1="-1" y1="840.5" x2="1691" y2="840.5" stroke="#c0c0c0" stroke-width="1" stroke-dasharray="3 3" shape-rendering="crispEdges"/>
<line x1="-1" y1="901.5" x2="1691" y2="901.5" stroke="#c0c0c0" stroke-width="1" stroke-dasharray="3 3" shape-rendering="crispEdges"/>
<polyline points="-1.5,817.0 6.5,818.2 14.5,816.1 22.5,811.6 30.5,827.0 38.5,847.5 46.5,838.5 54.5,848.4 62.5,847.5 70.5,861.8 78.5,872.6 86.5,873.5 94.5,874.4 102.5,858.6 110.5,859.1 118.5,844.4 126.5,846.2 134.5,850.2 142.5,838.5 150.5,835.4 158.5,838.5 166.5,836.7 174.5,834.4 182.5,843.9 190.5,840.3 198.5,844.4 206.5,849.3 214.5,860.6 222.5,857.7 230.5,861.3 238.5,857.7 246.5,867.2 254.5,863.6 262.5,862.4 270.5,865.4 278.5,848.4 286.5,862.0 294.5,877.6 302.5,863.4 310.5,866.8 318.5,878.4 326.5,879.6 334.5,888.5 342.5,882.6 350.5,888.5 358.5,889.6 366.5,866.4 374.5,878.4 382.5,861.8 390.5,851.4 398.5,854.6 406.5,851.4 414.5,855.4 422.5,847.6 430.5,854.3 438.5,850.4 446.5,851.4 454.5,844.2 462.5,836.4 470.5,844.2 478.5,840.1 486.5,836.4 494.5,841.4 502.5,842.2 510.5,837.2 518.5,838.4 526.5,845.4 534.5,843.4 542.5,842.6 550.5,846.4 558.5,837.6 566.5,832.6 574.5,833.7 582.5,850.9 590.5,845.9 598.5,840.4 606.5,843.4 614.5,839.2 622.5,833.4 630.5,839.2 638.5,840.1 646.5,847.2 654.5,847.2 662.5,843.1 670.5,835.1 678.5,833.4 686.5,838.7 694.5,861.4 702.5,858.1 710.5,849.2 718.5,854.3 726.5,855.4 734.5,857.1 742.5,844.2 750.5,835.9 758.5,831.7 766.5,830.4 774.5,824.7 782.5,824.2 790.5,822.0 798.5,819.5 806.5,833.7 814.5,837.6 822.5,847.6 830.5,835.4 838.5,834.2 846.5,835.1 854.5,830.4 862.5,834.2 870.5,825.4 878.5,834.7 886.5,838.4 894.5,843.9 902.5,840.4 910.5,824.2 918.5,822.0 926.5,809.7 934.5,817.5 942.5,816.4 950.5,814.2 958.5,826.4 966.5,825.4 974.5,830.1 982.5,831.4 990.5,843.1 998.5,838.4 1006.5,841.4 1014.5,830.4 1022.5,840.4 1030.5,837.6 1038.5,848.1 1046.5,849.2 1054.5,846.7 1062.5,844.2 1070.5,848.1 1078.5,850.1 1086.5,853.4 1094.5,840.4 1102.5,837.6 1110.5,842.6 1118.5,852.6 1126.5,851.4 1134.5,839.7 1142.5,832.6 1150.5,835.4 1158.5,836.4 1166.5,831.4 1174.5,830.4 1182.5,835.9 1190.5,848.1 1198.5,839.2 1206.5,828.4 1214.5,830.1 1222.5,830.1 1230.5,839.2 1238.5,833.7 1246.5,841.4 1254.5,841.4 1262.5,841.4 1270.5,844.2 1278.5,852.1 1286.5,856.4 1294.5,857.1 1302.5,859.3 1310.5,864.3 1318.5,855.1 1326.5,851.8 1334.5,843.4 1342.5,844.2 1350.5,856.5 1358.5,852.9 1366.5,866.6 1374.5,871.5 1382.5,870.3 1390.5,876.0 1398.5,879.6 1406.5,869.2 1414.5,871.5 1422.5,863.9 1430.5,853.1 1438.5,847.3 1446.5,839.4 1454.5,841.4" fill="none" stroke="#1e90ff" stroke-width="1" shape-rendering="crispEdges"/>
</g>
<rect x="1301" y="375" width="199" height="6" fill="#00ff00"/>
<rect x="1246" y="266" width="11" height="1" fill="#ff0000"/>
<rect x="1257.5" y="257.5" width="60" height="18" fill="#fff" stroke="#ff0000" stroke-width="1"/>
<text x="1259" y="273" font-size="16" fill="#ff0000" text-anchor="start" textLength="57" lengthAdjust="spacingAndGlyphs">25785.8</text>
<rect x="1191" y="379" width="11" height="1" fill="#ff0000"/>
<rect x="1201.5" y="367.5" width="73" height="24" fill="#fff" stroke="#ff0000" stroke-width="1"/>
<text x="1203" y="388" font-size="21" fill="#ff0000" text-anchor="start" textLength="70" lengthAdjust="spacingAndGlyphs">23969.2</text>
<rect x="1389" y="432" width="9" height="1" fill="#ff0000"/>
<rect x="1327.5" y="423.5" width="61" height="18" fill="#fff" stroke="#ff0000" stroke-width="1"/>
<text x="1329" y="439" font-size="16" fill="#ff0000" text-anchor="start" textLength="58" lengthAdjust="spacingAndGlyphs">23117.2</text>
<line x1="1335.5" y1="329.0" x2="1393.3" y2="422.3" stroke="#ff0000" stroke-width="3.2" stroke-linecap="square"/><polygon points="1398.0,430.0 1389.3,423.6 1396.1,419.4" fill="#ff0000"/>
<line x1="1398.0" y1="430.0" x2="1451.5" y2="375.2" stroke="#ff0000" stroke-width="3.2" stroke-linecap="square"/><polygon points="1458.5,368.0 1454.0,379.0 1447.6,372.7" fill="#ff0000"/>
<text x="1473" y="411" font-size="19.5" fill="#00ff00" stroke="#00ff00" stroke-width="0.45" font-family="'Noto Serif CJK SC', 'Noto Sans CJK SC', serif" textLength="113" lengthAdjust="spacingAndGlyphs">多空转折点</text>
<line x1="1421.0" y1="669.5" x2="1466.3" y2="650.0" stroke="#ff0000" stroke-width="3.6" stroke-linecap="square"/><polygon points="1475.5,646.0 1467.3,654.8 1463.5,645.9" fill="#ff0000"/>
<line x1="1345.0" y1="841.5" x2="1386.6" y2="873.4" stroke="#ff0000" stroke-width="3.2" stroke-linecap="square"/><polygon points="1394.5,879.5 1382.9,876.6 1388.7,869.0" fill="#ff0000"/>
<line x1="1394.5" y1="879.5" x2="1445.0" y2="835.6" stroke="#ff0000" stroke-width="3.2" stroke-linecap="square"/><polygon points="1452.5,829.0 1447.4,839.8 1441.1,832.6" fill="#ff0000"/>
<rect x="1692" y="48" width="2" height="1" fill="#000"/>
<text x="1697" y="52" font-size="9.9" fill="#000" text-anchor="start" stroke="#000" stroke-width="0.12" textLength="32.5" lengthAdjust="spacingAndGlyphs">29298.0</text>
<rect x="1692" y="81" width="2" height="1" fill="#000"/>
<text x="1697" y="85" font-size="9.9" fill="#000" text-anchor="start" stroke="#000" stroke-width="0.12" textLength="32.5" lengthAdjust="spacingAndGlyphs">28770.0</text>
<rect x="1692" y="114" width="2" height="1" fill="#000"/>
<text x="1697" y="118" font-size="9.9" fill="#000" text-anchor="start" stroke="#000" stroke-width="0.12" textLength="32.5" lengthAdjust="spacingAndGlyphs">28242.0</text>
<rect x="1692" y="147" width="2" height="1" fill="#000"/>
<text x="1697" y="151" font-size="9.9" fill="#000" text-anchor="start" stroke="#000" stroke-width="0.12" textLength="32.5" lengthAdjust="spacingAndGlyphs">27698.0</text>
<rect x="1692" y="180" width="2" height="1" fill="#000"/>
<text x="1697" y="184" font-size="9.9" fill="#000" text-anchor="start" stroke="#000" stroke-width="0.12" textLength="32.5" lengthAdjust="spacingAndGlyphs">27170.0</text>
<rect x="1692" y="213" width="2" height="1" fill="#000"/>
<text x="1697" y="217" font-size="9.9" fill="#000" text-anchor="start" stroke="#000" stroke-width="0.12" textLength="32.5" lengthAdjust="spacingAndGlyphs">26642.0</text>
<rect x="1692" y="246" width="2" height="1" fill="#000"/>
<text x="1697" y="250" font-size="9.9" fill="#000" text-anchor="start" stroke="#000" stroke-width="0.12" textLength="32.5" lengthAdjust="spacingAndGlyphs">26114.0</text>
<rect x="1692" y="279" width="2" height="1" fill="#000"/>
<text x="1697" y="283" font-size="9.9" fill="#000" text-anchor="start" stroke="#000" stroke-width="0.12" textLength="32.5" lengthAdjust="spacingAndGlyphs">25570.0</text>
<rect x="1692" y="312" width="2" height="1" fill="#000"/>
<text x="1697" y="316" font-size="9.9" fill="#000" text-anchor="start" stroke="#000" stroke-width="0.12" textLength="32.5" lengthAdjust="spacingAndGlyphs">25042.0</text>
<rect x="1692" y="345" width="2" height="1" fill="#000"/>
<text x="1697" y="349" font-size="9.9" fill="#000" text-anchor="start" stroke="#000" stroke-width="0.12" textLength="32.5" lengthAdjust="spacingAndGlyphs">24514.0</text>
<rect x="1692" y="378" width="2" height="1" fill="#000"/>
<text x="1697" y="382" font-size="9.9" fill="#000" text-anchor="start" stroke="#000" stroke-width="0.12" textLength="32.5" lengthAdjust="spacingAndGlyphs">23986.0</text>
<rect x="1692" y="411" width="2" height="1" fill="#000"/>
<text x="1697" y="415" font-size="9.9" fill="#000" text-anchor="start" stroke="#000" stroke-width="0.12" textLength="32.5" lengthAdjust="spacingAndGlyphs">23458.0</text>
<rect x="1692" y="444" width="2" height="1" fill="#000"/>
<text x="1697" y="448" font-size="9.9" fill="#000" text-anchor="start" stroke="#000" stroke-width="0.12" textLength="32.5" lengthAdjust="spacingAndGlyphs">22914.0</text>
<rect x="1692" y="477" width="2" height="1" fill="#000"/>
<text x="1697" y="481" font-size="9.9" fill="#000" text-anchor="start" stroke="#000" stroke-width="0.12" textLength="32.5" lengthAdjust="spacingAndGlyphs">22386.0</text>
<rect x="1692" y="510" width="2" height="1" fill="#000"/>
<text x="1697" y="514" font-size="9.9" fill="#000" text-anchor="start" stroke="#000" stroke-width="0.12" textLength="32.5" lengthAdjust="spacingAndGlyphs">21858.0</text>
<rect x="1692" y="543" width="2" height="1" fill="#000"/>
<text x="1697" y="547" font-size="9.9" fill="#000" text-anchor="start" stroke="#000" stroke-width="0.12" textLength="32.5" lengthAdjust="spacingAndGlyphs">21330.0</text>
<rect x="1692" y="576" width="2" height="1" fill="#000"/>
<text x="1697" y="580" font-size="9.9" fill="#000" text-anchor="start" stroke="#000" stroke-width="0.12" textLength="32.5" lengthAdjust="spacingAndGlyphs">20802.0</text>
<rect x="1693" y="333" width="41" height="11" fill="#ff0000"/>
<text x="1697" y="342" font-size="9.9" fill="#fff" text-anchor="start" stroke="#fff" stroke-width="0.12" textLength="32.5" lengthAdjust="spacingAndGlyphs">24612.3</text>
<rect x="1693" y="347" width="41" height="11" fill="#ff0000"/>
<text x="1697" y="356" font-size="9.9" fill="#fff" text-anchor="start" stroke="#fff" stroke-width="0.12" textLength="32.5" lengthAdjust="spacingAndGlyphs">24387.2</text>
<rect x="1693" y="365" width="41" height="11" fill="#000000"/>
<text x="1697" y="374" font-size="9.9" fill="#fff" text-anchor="start" stroke="#fff" stroke-width="0.12" textLength="32.5" lengthAdjust="spacingAndGlyphs">24096.0</text>
<rect x="1693" y="373" width="41" height="11" fill="#32cd32"/>
<text x="1697" y="382" font-size="9.9" fill="#fff" text-anchor="start" stroke="#fff" stroke-width="0.12" textLength="32.5" lengthAdjust="spacingAndGlyphs">23969.2</text>
<rect x="1693" y="392" width="41" height="11" fill="#0000ff"/>
<text x="1697" y="401" font-size="9.9" fill="#fff" text-anchor="start" stroke="#fff" stroke-width="0.12" textLength="32.5" lengthAdjust="spacingAndGlyphs">23663.8</text>
<rect x="1693" y="409" width="41" height="11" fill="#0000ff"/>
<text x="1697" y="418" font-size="9.9" fill="#fff" text-anchor="start" stroke="#fff" stroke-width="0.12" textLength="32.5" lengthAdjust="spacingAndGlyphs">23390.5</text>
<rect x="1686.5" y="351.5" width="4" height="4" fill="#fff" stroke="#ff0000" stroke-width="1"/>
<rect x="-1.5" y="351.5" width="4" height="4" fill="#fff" stroke="#ff0000" stroke-width="1"/>
<rect x="1692" y="583" width="1" height="1" fill="#000"/>
<text x="1696" y="591.5" font-size="9.9" fill="#000" text-anchor="start" stroke="#000" stroke-width="0.12" textLength="27" lengthAdjust="spacingAndGlyphs">596.11</text>
<rect x="1692" y="632" width="2" height="1" fill="#000"/>
<text x="1696" y="635.5" font-size="9.9" fill="#000" text-anchor="start" stroke="#000" stroke-width="0.12" textLength="17.5" lengthAdjust="spacingAndGlyphs">0.00</text>
<rect x="1692" y="750" width="2" height="1" fill="#000"/>
<text x="1695" y="748" font-size="9.9" fill="#000" text-anchor="start" stroke="#000" stroke-width="0.12" textLength="35" lengthAdjust="spacingAndGlyphs">-1415.19</text>
<rect x="1692" y="755" width="2" height="1" fill="#000"/>
<text x="1696" y="764" font-size="9.9" fill="#000" text-anchor="start" stroke="#000" stroke-width="0.12" textLength="14.5" lengthAdjust="spacingAndGlyphs">100</text>
<rect x="1692" y="789" width="2" height="1" fill="#000"/>
<text x="1696" y="793" font-size="9.9" fill="#000" text-anchor="start" stroke="#000" stroke-width="0.12" textLength="9.5" lengthAdjust="spacingAndGlyphs">80</text>
<rect x="1692" y="840" width="2" height="1" fill="#000"/>
<text x="1696" y="844" font-size="9.9" fill="#000" text-anchor="start" stroke="#000" stroke-width="0.12" textLength="9.5" lengthAdjust="spacingAndGlyphs">50</text>
<rect x="1692" y="901" width="2" height="1" fill="#000"/>
<text x="1696" y="905" font-size="9.9" fill="#000" text-anchor="start" stroke="#000" stroke-width="0.12" textLength="9.5" lengthAdjust="spacingAndGlyphs">15</text>
<rect x="1692" y="926" width="2" height="1" fill="#000"/>
<text x="1696" y="924" font-size="9.9" fill="#000" text-anchor="start" stroke="#000" stroke-width="0.12" textLength="5" lengthAdjust="spacingAndGlyphs">0</text>
<rect x="-2" y="928" width="1" height="3" fill="#000"/>
<text x="-2.5" y="940" font-size="9.9" fill="#000" text-anchor="start" stroke="#000" stroke-width="0.12" textLength="49.6" lengthAdjust="spacingAndGlyphs">14 Jan 2020</text>
<rect x="62" y="928" width="1" height="3" fill="#000"/>
<text x="61.5" y="940" font-size="9.9" fill="#000" text-anchor="start" stroke="#000" stroke-width="0.12" textLength="49.6" lengthAdjust="spacingAndGlyphs">24 Jan 2020</text>
<rect x="126" y="928" width="1" height="3" fill="#000"/>
<text x="125.5" y="940" font-size="9.9" fill="#000" text-anchor="start" stroke="#000" stroke-width="0.12" textLength="46.8" lengthAdjust="spacingAndGlyphs">7 Feb 2020</text>
<rect x="190" y="928" width="1" height="3" fill="#000"/>
<text x="189.5" y="940" font-size="9.9" fill="#000" text-anchor="start" stroke="#000" stroke-width="0.12" textLength="51.8" lengthAdjust="spacingAndGlyphs">19 Feb 2020</text>
<rect x="254" y="928" width="1" height="3" fill="#000"/>
<text x="253.5" y="940" font-size="9.9" fill="#000" text-anchor="start" stroke="#000" stroke-width="0.12" textLength="46.0" lengthAdjust="spacingAndGlyphs">2 Mar 2020</text>
<rect x="318" y="928" width="1" height="3" fill="#000"/>
<text x="317.5" y="940" font-size="9.9" fill="#000" text-anchor="start" stroke="#000" stroke-width="0.12" textLength="51.0" lengthAdjust="spacingAndGlyphs">12 Mar 2020</text>
<rect x="382" y="928" width="1" height="3" fill="#000"/>
<text x="381.5" y="940" font-size="9.9" fill="#000" text-anchor="start" stroke="#000" stroke-width="0.12" textLength="51.0" lengthAdjust="spacingAndGlyphs">24 Mar 2020</text>
<rect x="446" y="928" width="1" height="3" fill="#000"/>
<text x="445.5" y="940" font-size="9.9" fill="#000" text-anchor="start" stroke="#000" stroke-width="0.12" textLength="45.5" lengthAdjust="spacingAndGlyphs">3 Apr 2020</text>
<rect x="510" y="928" width="1" height="3" fill="#000"/>
<text x="509.5" y="940" font-size="9.9" fill="#000" text-anchor="start" stroke="#000" stroke-width="0.12" textLength="50.5" lengthAdjust="spacingAndGlyphs">17 Apr 2020</text>
<rect x="574" y="928" width="1" height="3" fill="#000"/>
<text x="573.5" y="940" font-size="9.9" fill="#000" text-anchor="start" stroke="#000" stroke-width="0.12" textLength="50.5" lengthAdjust="spacingAndGlyphs">29 Apr 2020</text>
<rect x="638" y="928" width="1" height="3" fill="#000"/>
<text x="637.5" y="940" font-size="9.9" fill="#000" text-anchor="start" stroke="#000" stroke-width="0.12" textLength="52.2" lengthAdjust="spacingAndGlyphs">13 May 2020</text>
<rect x="702" y="928" width="1" height="3" fill="#000"/>
<text x="701.5" y="940" font-size="9.9" fill="#000" text-anchor="start" stroke="#000" stroke-width="0.12" textLength="52.2" lengthAdjust="spacingAndGlyphs">25 May 2020</text>
<rect x="766" y="928" width="1" height="3" fill="#000"/>
<text x="765.5" y="940" font-size="9.9" fill="#000" text-anchor="start" stroke="#000" stroke-width="0.12" textLength="45.5" lengthAdjust="spacingAndGlyphs">4 Jun 2020</text>
<rect x="830" y="928" width="1" height="3" fill="#000"/>
<text x="829.5" y="940" font-size="9.9" fill="#000" text-anchor="start" stroke="#000" stroke-width="0.12" textLength="50.5" lengthAdjust="spacingAndGlyphs">16 Jun 2020</text>
<rect x="894" y="928" width="1" height="3" fill="#000"/>
<text x="893.5" y="940" font-size="9.9" fill="#000" text-anchor="start" stroke="#000" stroke-width="0.12" textLength="50.5" lengthAdjust="spacingAndGlyphs">29 Jun 2020</text>
<rect x="958" y="928" width="1" height="3" fill="#000"/>
<text x="957.5" y="940" font-size="9.9" fill="#000" text-anchor="start" stroke="#000" stroke-width="0.12" textLength="47.5" lengthAdjust="spacingAndGlyphs">10 Jul 2020</text>
<rect x="1022" y="928" width="1" height="3" fill="#000"/>
<text x="1021.5" y="940" font-size="9.9" fill="#000" text-anchor="start" stroke="#000" stroke-width="0.12" textLength="47.5" lengthAdjust="spacingAndGlyphs">22 Jul 2020</text>
<rect x="1086" y="928" width="1" height="3" fill="#000"/>
<text x="1085.5" y="940" font-size="9.9" fill="#000" text-anchor="start" stroke="#000" stroke-width="0.12" textLength="47.5" lengthAdjust="spacingAndGlyphs">3 Aug 2020</text>
<rect x="1150" y="928" width="1" height="3" fill="#000"/>
<text x="1149.5" y="940" font-size="9.9" fill="#000" text-anchor="start" stroke="#000" stroke-width="0.12" textLength="52.5" lengthAdjust="spacingAndGlyphs">13 Aug 2020</text>
<rect x="1214" y="928" width="1" height="3" fill="#000"/>
<text x="1213.5" y="940" font-size="9.9" fill="#000" text-anchor="start" stroke="#000" stroke-width="0.12" textLength="52.5" lengthAdjust="spacingAndGlyphs">25 Aug 2020</text>
<rect x="1278" y="928" width="1" height="3" fill="#000"/>
<text x="1277.5" y="940" font-size="9.9" fill="#000" text-anchor="start" stroke="#000" stroke-width="0.12" textLength="46.5" lengthAdjust="spacingAndGlyphs">4 Sep 2020</text>
<rect x="1342" y="928" width="1" height="3" fill="#000"/>
<text x="1341.5" y="940" font-size="9.9" fill="#000" text-anchor="start" stroke="#000" stroke-width="0.12" textLength="51.5" lengthAdjust="spacingAndGlyphs">16 Sep 2020</text>
<rect x="1406" y="928" width="1" height="3" fill="#000"/>
<text x="1405.5" y="940" font-size="9.9" fill="#000" text-anchor="start" stroke="#000" stroke-width="0.12" textLength="51.5" lengthAdjust="spacingAndGlyphs">28 Sep 2020</text>
<path d="M1465,27 H1474 L1469.5,32 Z" fill="#c0c0c0"/>
<text x="2" y="594" font-size="9.9" fill="#000" text-anchor="start" stroke="#000" stroke-width="0.12" textLength="133" lengthAdjust="spacingAndGlyphs">MACD(12,26,9) -241.22 -360.25</text>
<text x="2" y="766" font-size="9.9" fill="#000" text-anchor="start" stroke="#000" stroke-width="0.12" textLength="67.5" lengthAdjust="spacingAndGlyphs">RSI(14) 49.5604</text>
<path d="M1,37.5 L8.5,37.5 L4.75,33 Z" fill="#000"/>
<text x="13" y="38" font-size="9.9" fill="#000" text-anchor="start" stroke="#000" stroke-width="0.12" textLength="50.3" lengthAdjust="spacingAndGlyphs">HK50-,Daily</text>
<text x="70" y="38" font-size="9.9" fill="#000" text-anchor="start" stroke="#000" stroke-width="0.12" textLength="140" lengthAdjust="spacingAndGlyphs">24193.0 24193.0 23988.0 24096.0</text>
<defs>
<linearGradient id="gTop" x1="0" y1="0" x2="0" y2="1"><stop offset="0" stop-color="#f65858"/><stop offset="1" stop-color="#dd3030"/></linearGradient>
<linearGradient id="gBot" x1="0" y1="0" x2="0" y2="1"><stop offset="0" stop-color="#de3333"/><stop offset="0.5" stop-color="#cc1a1a"/><stop offset="1" stop-color="#b00202"/></linearGradient>
<linearGradient id="gBtn" x1="0" y1="0" x2="0" y2="1"><stop offset="0" stop-color="#f2f2f2"/><stop offset="0.45" stop-color="#e6e6e6"/><stop offset="0.5" stop-color="#d9d9d9"/><stop offset="1" stop-color="#d2d2d2"/></linearGradient>
</defs>
<rect x="1" y="46" width="220" height="64" fill="#fff"/>
<path d="M1,46 H53 V70 H110 V110 H1 Z" fill="#b40000"/>
<rect x="2" y="47" width="50" height="23" fill="url(#gTop)"/>
<rect x="2" y="70" width="107" height="39" fill="url(#gBot)"/>
<rect x="5" y="69" width="44" height="1" fill="#7a0000"/>
<rect x="5" y="70" width="44" height="1" fill="#f07070"/>
<path d="M168,46 H220 V110 H112 V70 H168 Z" fill="#b40000"/>
<rect x="169" y="47" width="50" height="23" fill="url(#gTop)"/>
<rect x="113" y="70" width="106" height="39" fill="url(#gBot)"/>
<rect x="172" y="69" width="44" height="1" fill="#7a0000"/>
<rect x="172" y="70" width="44" height="1" fill="#f07070"/>
<rect x="55.5" y="46.5" width="110" height="21" fill="#fff" stroke="#a8a8a8"/>
<rect x="57" y="48" width="18" height="18" fill="url(#gBtn)"/>
<rect x="75.5" y="47" width="1" height="20" fill="#a8a8a8"/>
<rect x="145" y="47" width="1" height="20" fill="#a8a8a8"/>
<rect x="146" y="48" width="18" height="18" fill="url(#gBtn)"/>
<path d="M63,55 H69 L66,58 Z" fill="#4a5ec8"/>
<path d="M152,58 H158 L155,55 Z" fill="#4a5ec8"/>
<text x="140.5" y="61" font-size="12.5" fill="#000" text-anchor="end" textLength="22.5" lengthAdjust="spacingAndGlyphs">1.00</text>
<text x="13.5" y="62" font-size="12.5" fill="#fff" text-anchor="start" textLength="25" lengthAdjust="spacingAndGlyphs">SELL</text>
<text x="181.5" y="62" font-size="12.5" fill="#fff" text-anchor="start" textLength="23.3" lengthAdjust="spacingAndGlyphs">BUY</text>
<text x="17" y="101" font-size="12.6" fill="#fff" text-anchor="start" font-weight="bold" textLength="34.3" lengthAdjust="spacingAndGlyphs">24094</text>
<text x="127" y="101" font-size="12.6" fill="#fff" text-anchor="start" font-weight="bold" textLength="35" lengthAdjust="spacingAndGlyphs">24110</text>
<circle cx="58.3" cy="98.6" r="2.3" fill="#fff"/>
<circle cx="169.4" cy="98.6" r="2.3" fill="#fff"/>
<text x="63.5" y="101" font-size="33" fill="#fff" text-anchor="start" stroke="#d22" stroke-width="0.45" textLength="15" lengthAdjust="spacingAndGlyphs">5</text>
<text x="174.5" y="101" font-size="33" fill="#fff" text-anchor="start" stroke="#d22" stroke-width="0.45" textLength="15" lengthAdjust="spacingAndGlyphs">5</text>
<defs>
<linearGradient id="gGold" x1="0" y1="0" x2="1" y2="1"><stop offset="0" stop-color="#f7e27a"/><stop offset="0.6" stop-color="#d9a82a"/><stop offset="1" stop-color="#9a6a10"/></linearGradient>
<radialGradient id="gBlueBall" cx="0.4" cy="0.35" r="0.7"><stop offset="0" stop-color="#8cc4ff"/><stop offset="1" stop-color="#1656c8"/></radialGradient>
<linearGradient id="gPressed" x1="0" y1="0" x2="0" y2="1"><stop offset="0" stop-color="#f7f7f7"/><stop offset="1" stop-color="#f3f3f3"/></linearGradient>
</defs>
<rect x="-3" y="3.5" width="17.5" height="13" rx="1.2" fill="#fff" stroke="#2f6fc0" stroke-width="1.1"/>
<rect x="0" y="4" width="2.6" height="12" fill="#5a9ae0"/>
<circle cx="1.5" cy="5.5" r="0.9" fill="#000"/><rect x="1" y="11" width="1" height="4" fill="#404040"/>
<circle cx="4.5" cy="5.5" r="0.75" fill="#ff2020"/>
<rect x="6" y="5" width="7.5" height="1" fill="#d4e2fa"/>
<circle cx="4.5" cy="7.5" r="0.75" fill="#203020"/>
<rect x="6" y="7" width="7.5" height="1" fill="#d4e2fa"/>
<circle cx="4.5" cy="9.5" r="0.75" fill="#203020"/>
<rect x="6" y="9" width="7.5" height="1" fill="#d4e2fa"/>
<circle cx="4.5" cy="11.5" r="0.75" fill="#ff2020"/>
<rect x="6" y="11" width="7.5" height="1" fill="#d4e2fa"/>
<rect x="27.5" y="2.5" width="12" height="13" fill="#ffffff" stroke="#b0a890" stroke-width="1.1"/>
<path d="M30.5,4 v7 M29.5,8.5 h2 M36.5,4 v4 M36.5,5 h1.2" stroke="#707070" stroke-width="0.9" fill="none"/>
<line x1="39.8" y1="15.5" x2="43.8" y2="19.2" stroke="#c09a1a" stroke-width="2.2"/>
<circle cx="35.4" cy="11" r="5.1" fill="#e4f4fb" fill-opacity="0.9" stroke="#5b95dc" stroke-width="1" stroke-dasharray="1.2 0.6"/>
<rect x="34" y="8" width="2.6" height="5" fill="#a8b8c0"/>
<rect x="52" y="0" width="1" height="22" fill="#a0a0a0"/><rect x="53" y="0" width="1" height="21" fill="#ffffff"/>
<path d="M62.5,2.5 H70 L73.5,6 V16.5 H62.5 Z" fill="#fff" stroke="#6a6a6a"/>
<path d="M64,5 h3 M64,8 h6 M64,11 h5" stroke="#9a9a9a"/>
<path d="M69,11 h3 v-3 h3 v3 h3 v3 h-3 v3 h-3 v-3 h-3 Z" fill="#2ec02e" stroke="#138a13" stroke-width="0.8"/>
<text x="81" y="13.3" font-size="12.3" fill="#000" font-family="'Liberation Sans', 'Noto Sans CJK SC', 'WenQuanYi Zen Hei', sans-serif" textLength="36" lengthAdjust="spacingAndGlyphs">新订单</text>
<path d="M134.8,3.2 L144.2,10.6 L137,17.6 L129.2,11.6 Q132.5,9 133.2,6.5 Z" fill="url(#gGold)" stroke="#9a5a08" stroke-width="0.9"/>
<path d="M137.2,17.4 L144.2,10.8 L144.8,12.2 L138,18.6 Z" fill="#e8dca0" stroke="#9a5a08" stroke-width="0.5"/>
<path d="M130.5,12.5 L137,16.5" stroke="#fff0a0" stroke-width="1"/>
<path d="M159,3 L160.5,2 H170 V11.5 H159 Z" fill="#1a8ef0"/>
<rect x="162.5" y="3" width="7" height="8" fill="#3aa8ff"/>
<rect x="163" y="7" width="6" height="1.2" fill="#ffffff"/>
<path d="M158.5,17.5 a2.4,2.4 0 0 1 1,-4.6 a3,3 0 0 1 4.8,-2.4 a3.2,3.2 0 0 1 5.6,1.6 a2.7,2.7 0 0 1 2.4,5.4 Z" fill="#e6ecf5" stroke="#3c5688" stroke-width="0.9"/>
<circle cx="193" cy="10" r="7.5" fill="none" stroke="#7aa8e0" stroke-width="0.9"/>
<circle cx="193" cy="10" r="5" fill="none" stroke="#4a8ad8" stroke-width="0.9"/>
<circle cx="193" cy="10" r="2.5" fill="none" stroke="#2f6fd0" stroke-width="0.9"/>
<path d="M196.5,4 A7.5,7.5 0 0 1 196.5,16" fill="none" stroke="#5ab04a" stroke-width="1.2"/>
<rect x="192.5" y="9" width="1.5" height="9" fill="#2aa02a"/>
<ellipse cx="220" cy="7" rx="8" ry="3.5" fill="#5aa0e0" stroke="#2a6ab0" stroke-width="0.6"/>
<ellipse cx="220" cy="5.5" rx="4.5" ry="3.5" fill="#4a90d8"/>
<path d="M213,10 L221,18 L227,11 Z" fill="#f2d24a" stroke="#b08a10" stroke-width="0.6"/>
<circle cx="224" cy="14.5" r="4.2" fill="#d81e1e" stroke="#a00000" stroke-width="0.5"/>
<rect x="222.5" y="13" width="3" height="3" fill="#fff"/>
<text x="234" y="13.3" font-size="12.3" fill="#000" font-family="'Liberation Sans', 'Noto Sans CJK SC', 'WenQuanYi Zen Hei', sans-serif" textLength="46" lengthAdjust="spacingAndGlyphs">自动交易</text>
<rect x="288" y="0" width="1" height="22" fill="#a0a0a0"/><rect x="289" y="0" width="1" height="21" fill="#ffffff"/>
<rect x="292" y="0" width="3" height="1" fill="#a8a8a8"/>
<rect x="292" y="2" width="3" height="1" fill="#a8a8a8"/>
<rect x="292" y="4" width="3" height="1" fill="#a8a8a8"/>
<rect x="292" y="6" width="3" height="1" fill="#a8a8a8"/>
<rect x="292" y="8" width="3" height="1" fill="#a8a8a8"/>
<rect x="292" y="10" width="3" height="1" fill="#a8a8a8"/>
<rect x="292" y="12" width="3" height="1" fill="#a8a8a8"/>
<rect x="292" y="14" width="3" height="1" fill="#a8a8a8"/>
<rect x="292" y="16" width="3" height="1" fill="#a8a8a8"/>
<rect x="292" y="18" width="3" height="1" fill="#a8a8a8"/>
<path d="M306,4 v13 M304,16.5 h12" stroke="#555" stroke-width="1.2"/>
<path d="M306,4 l-1.5,2 h3 Z M317,16.5 l-2,-1.5 v3 Z" fill="#555"/>
<path d="M311,6 v7 M311,6 h2 M311,12 h-2" stroke="#1a9a1a" stroke-width="1.3" fill="none"/>
<rect x="326" y="0" width="25" height="21" fill="#f8f8f8"/>
<path d="M334,4 v13 M332,16.5 h12" stroke="#555" stroke-width="1.2"/>
<path d="M334,4 l-1.5,2 h3 Z M345,16.5 l-2,-1.5 v3 Z" fill="#555"/>
<rect x="337" y="5.5" width="3.5" height="7" fill="#28c028" stroke="#0c800c" stroke-width="0.8"/><path d="M338.8,3 v12" stroke="#0c800c" stroke-width="0.9"/>
<path d="M362,4 v13 M360,16.5 h12" stroke="#555" stroke-width="1.2"/>
<path d="M362,4 l-1.5,2 h3 Z M373,16.5 l-2,-1.5 v3 Z" fill="#555"/>
<path d="M363,13 q4,-6 7,-5 q2,1 4,3" fill="none" stroke="#1a9a1a" stroke-width="1.2"/>
<rect x="383" y="0" width="1" height="22" fill="#a0a0a0"/><rect x="384" y="0" width="1" height="21" fill="#ffffff"/>
<line x1="401" y1="13" x2="406" y2="18" stroke="#c9a227" stroke-width="2.4"/>
<circle cx="398" cy="9" r="5.5" fill="#d8ecff" stroke="#3a7ad8" stroke-width="1.3"/>
<rect x="394.5" y="8" width="7" height="2" fill="#3a7ad8"/>
<rect x="397" y="5.5" width="2" height="7" fill="#3a7ad8"/>
<line x1="429" y1="13" x2="434" y2="18" stroke="#c9a227" stroke-width="2.4"/>
<circle cx="426" cy="9" r="5.5" fill="#d8ecff" stroke="#3a7ad8" stroke-width="1.3"/>
<rect x="422.5" y="8" width="7" height="2" fill="#3a7ad8"/>
<rect x="448" y="2" width="7.5" height="7.5" fill="#2aa02a"/>
<rect x="449" y="5" width="5" height="3" fill="#fff" opacity="0.85"/>
<rect x="456" y="2" width="7.5" height="7.5" fill="#2060d0"/>
<rect x="457" y="5" width="5" height="3" fill="#fff" opacity="0.85"/>
<rect x="448" y="10" width="7.5" height="7.5" fill="#2060d0"/>
<rect x="449" y="13" width="5" height="3" fill="#fff" opacity="0.85"/>
<rect x="456" y="10" width="7.5" height="7.5" fill="#2aa02a"/>
<rect x="457" y="13" width="5" height="3" fill="#fff" opacity="0.85"/>
<rect x="473" y="0" width="1" height="22" fill="#a0a0a0"/><rect x="474" y="0" width="1" height="21" fill="#ffffff"/>
<rect x="477" y="0" width="1" height="22" fill="#a0a0a0"/><rect x="478" y="0" width="1" height="21" fill="#ffffff"/>
<rect x="479" y="0" width="25" height="21" fill="#f8f8f8"/>
<path d="M486,4 v13 M484,16.5 h12" stroke="#555" stroke-width="1.2"/>
<path d="M486,4 l-1.5,2 h3 Z M497,16.5 l-2,-1.5 v3 Z" fill="#555"/>
<path d="M491,7 v6 l4,-3 Z" fill="#28b028" stroke="#0c800c" stroke-width="0.6"/>
<rect x="506" y="0" width="1" height="22" fill="#a0a0a0"/><rect x="507" y="0" width="1" height="21" fill="#ffffff"/>
<rect x="508" y="0" width="24" height="21" fill="#f8f8f8"/>
<path d="M514,4 v13 M512,16.5 h12" stroke="#555" stroke-width="1.2"/>
<path d="M514,4 l-1.5,2 h3 Z M525,16.5 l-2,-1.5 v3 Z" fill="#555"/>
<rect x="519.5" y="4" width="1.2" height="11" fill="#2a70d0"/><path d="M521,10 l4.5,-3 v6 Z" fill="#e06010"/>
<rect x="535" y="0" width="1" height="22" fill="#a0a0a0"/><rect x="536" y="0" width="1" height="21" fill="#ffffff"/>
<path d="M545.5,2.5 H552 L555.5,6 V16.5 H545.5 Z" fill="#fff" stroke="#6a6a6a"/>
<path d="M550,11 h3 v-3 h3 v3 h3 v3 h-3 v3 h-3 v-3 h-3 Z" fill="#2ec02e" stroke="#138a13" stroke-width="0.8"/>
<path d="M567,9 h5 l-2.5,3 Z" fill="#000"/>
<circle cx="591" cy="10" r="7.6" fill="url(#gBlueBall)" stroke="#1448a8" stroke-width="0.8"/>
<circle cx="591" cy="10" r="5" fill="#fff"/><path d="M591,6.5 V10 H594" stroke="#222" stroke-width="1" fill="none"/>
<path d="M606,9 h5 l-2.5,3 Z" fill="#000"/>
<rect x="622.5" y="3.5" width="15" height="13" fill="#fff" stroke="#2a5ab8"/><rect x="623" y="4" width="14" height="2" fill="#6a9ae0"/>
<path d="M624,10 l3,-1.5 l3,1 l3,-2 l3,1" fill="none" stroke="#c02020" stroke-width="1"/><path d="M624,15 l3,-2 l3,1 l3,-2 l3,1" fill="none" stroke="#20a020" stroke-width="1"/>
<path d="M645,9 h5 l-2.5,3 Z" fill="#000"/>
<rect x="656" y="0" width="1" height="22" fill="#a0a0a0"/><rect x="657" y="0" width="1" height="21" fill="#ffffff"/>
<rect x="660" y="0" width="3" height="1" fill="#a8a8a8"/>
<rect x="660" y="2" width="3" height="1" fill="#a8a8a8"/>
<rect x="660" y="4" width="3" height="1" fill="#a8a8a8"/>
<rect x="660" y="6" width="3" height="1" fill="#a8a8a8"/>
<rect x="660" y="8" width="3" height="1" fill="#a8a8a8"/>
<rect x="660" y="10" width="3" height="1" fill="#a8a8a8"/>
<rect x="660" y="12" width="3" height="1" fill="#a8a8a8"/>
<rect x="660" y="14" width="3" height="1" fill="#a8a8a8"/>
<rect x="660" y="16" width="3" height="1" fill="#a8a8a8"/>
<rect x="660" y="18" width="3" height="1" fill="#a8a8a8"/>
<rect x="666" y="0" width="1" height="22" fill="#a0a0a0"/><rect x="667" y="0" width="1" height="21" fill="#ffffff"/>
<rect x="668" y="0" width="24" height="21" fill="#f8f8f8"/>
<path d="M673.5,3 V16 L676.5,13 L679,18 L681,17 L678.5,12.5 L682.5,12.5 Z" fill="#303030"/>
<path d="M706.5,3 V18 M699,10.5 H714" stroke="#404040" stroke-width="1"/>
<rect x="723" y="0" width="1" height="22" fill="#a0a0a0"/><rect x="724" y="0" width="1" height="21" fill="#ffffff"/>
<rect x="740" y="4" width="1.3" height="13" fill="#404040"/>
<rect x="763" y="10" width="12" height="1.3" fill="#404040"/>
<line x1="791" y1="17" x2="803" y2="5" stroke="#404040" stroke-width="1.2"/>
<path d="M817,15 L829,4 M819,17 L831,6 M820,11 l3,3 M823,8 l3,3" stroke="#404040" stroke-width="1"/>
<text x="828" y="19.5" font-size="6.5" font-weight="bold" fill="#303030">E</text>
<line x1="846" y1="3.5" x2="859" y2="3.5" stroke="#505050" stroke-width="1" stroke-dasharray="1 1"/>
<line x1="846" y1="7.5" x2="859" y2="7.5" stroke="#505050" stroke-width="1" stroke-dasharray="1 1"/>
<line x1="846" y1="11.5" x2="859" y2="11.5" stroke="#505050" stroke-width="1" stroke-dasharray="1 1"/>
<line x1="846" y1="15.5" x2="859" y2="15.5" stroke="#505050" stroke-width="1" stroke-dasharray="1 1"/>
<text x="856" y="19.5" font-size="6.5" font-weight="bold" fill="#303030">F</text>
<text x="876.5" y="15.5" font-size="12" font-weight="bold" fill="#505050">A</text>
<rect x="902.5" y="3.5" width="12" height="13" fill="none" stroke="#505050" stroke-dasharray="1 1"/>
<text x="904.5" y="14.5" font-size="11" font-weight="bold" fill="#505050">T</text>
<path d="M933,4 l3,3 l-3,3 l-3,-3 Z M941,10 l3,3 l-3,3 l-3,-3 Z" fill="#404040"/><path d="M931,11 l3,3 l6,-6" stroke="#404040" stroke-width="1.3" fill="none"/>
<path d="M951,9 h5 l-2.5,3 Z" fill="#000"/>
<rect x="962" y="0" width="1" height="22" fill="#a0a0a0"/><rect x="963" y="0" width="1" height="21" fill="#ffffff"/>
<rect x="966" y="0" width="3" height="1" fill="#a8a8a8"/>
<rect x="966" y="2" width="3" height="1" fill="#a8a8a8"/>
<rect x="966" y="4" width="3" height="1" fill="#a8a8a8"/>
<rect x="966" y="6" width="3" height="1" fill="#a8a8a8"/>
<rect x="966" y="8" width="3" height="1" fill="#a8a8a8"/>
<rect x="966" y="10" width="3" height="1" fill="#a8a8a8"/>
<rect x="966" y="12" width="3" height="1" fill="#a8a8a8"/>
<rect x="966" y="14" width="3" height="1" fill="#a8a8a8"/>
<rect x="966" y="16" width="3" height="1" fill="#a8a8a8"/>
<rect x="966" y="18" width="3" height="1" fill="#a8a8a8"/>
<text x="977.5" y="14" font-size="10.3" fill="#404040" textLength="12.5" lengthAdjust="spacingAndGlyphs">M1</text>
<text x="1005.5" y="14" font-size="10.3" fill="#404040" textLength="12.8" lengthAdjust="spacingAndGlyphs">M5</text>
<text x="1031.5" y="14" font-size="10.3" fill="#404040" textLength="17.7" lengthAdjust="spacingAndGlyphs">M15</text>
<text x="1059.5" y="14" font-size="10.3" fill="#404040" textLength="17.5" lengthAdjust="spacingAndGlyphs">M30</text>
<text x="1090.5" y="14" font-size="10.3" fill="#404040" textLength="11.5" lengthAdjust="spacingAndGlyphs">H1</text>
<text x="1117.5" y="14" font-size="10.3" fill="#404040" textLength="12.5" lengthAdjust="spacingAndGlyphs">H4</text>
<rect x="1140" y="0" width="1" height="22" fill="#a0a0a0"/><rect x="1141" y="0" width="1" height="21" fill="#ffffff"/>
<rect x="1142" y="0" width="24" height="21" fill="#f8f8f8"/>
<text x="1146.5" y="14" font-size="10.3" fill="#404040" textLength="11.5" lengthAdjust="spacingAndGlyphs">D1</text>
<text x="1174" y="14" font-size="10.3" fill="#404040" textLength="14" lengthAdjust="spacingAndGlyphs">W1</text>
<text x="1200.5" y="14" font-size="10.3" fill="#404040" textLength="15" lengthAdjust="spacingAndGlyphs">MN</text>
<rect x="1223" y="0" width="1" height="22" fill="#a0a0a0"/><rect x="1224" y="0" width="1" height="21" fill="#ffffff"/>
<line x1="1686" y1="15" x2="1690" y2="11" stroke="#2a5ad0" stroke-width="2.2"/>
<circle cx="1693" cy="8" r="4" fill="#fff" stroke="#2a66d8" stroke-width="1.4"/>
<ellipse cx="1727" cy="7.5" rx="6" ry="4.5" fill="#e8ecf4" stroke="#9aa0aa" stroke-width="0.8"/>
<ellipse cx="1717.5" cy="11" rx="5.5" ry="4" fill="#eef0f6" stroke="#9aa0aa" stroke-width="0.8"/>
<path d="M1714,14 l-1,3 l3,-2 Z M1729,11 l1.5,3 l-3,-2 Z" fill="#7a808a"/>
</svg></body></html>
